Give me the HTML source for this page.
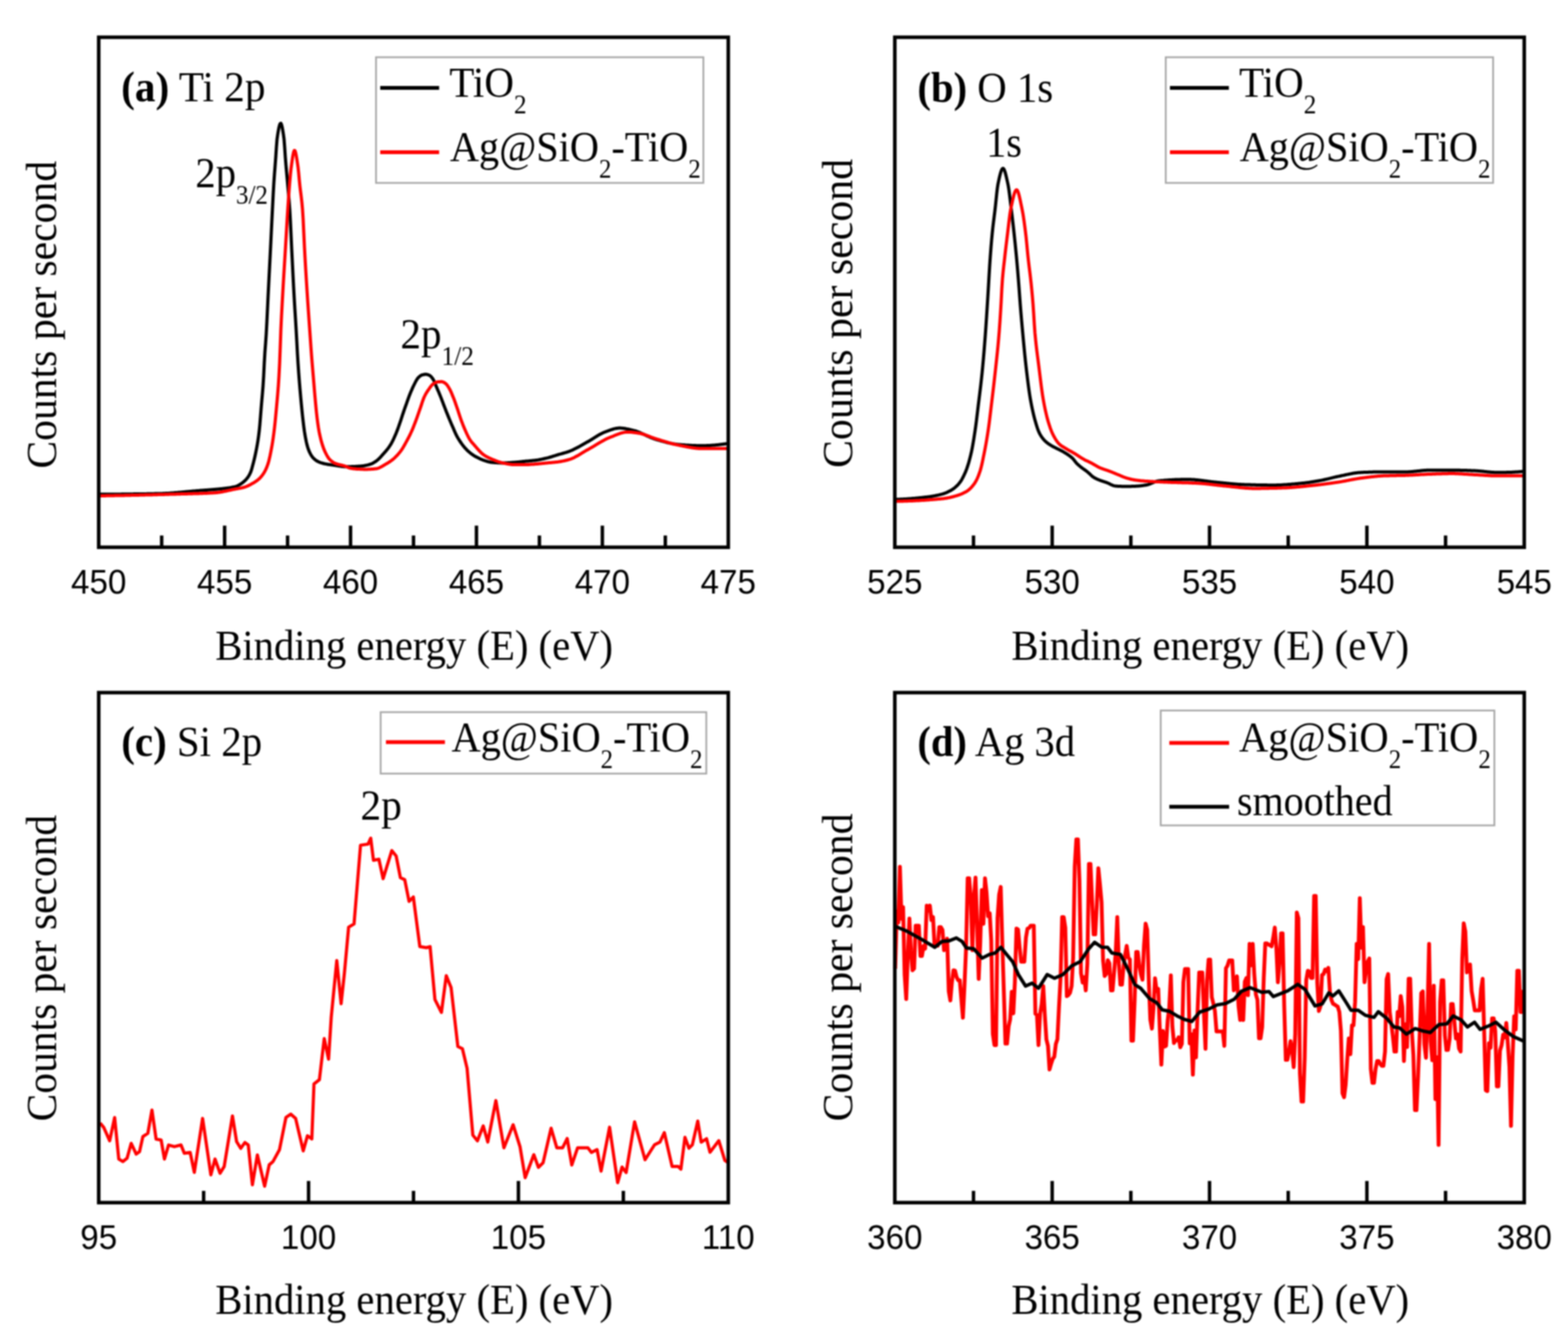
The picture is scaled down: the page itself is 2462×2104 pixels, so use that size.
<!DOCTYPE html>
<html><head><meta charset="utf-8"><title>XPS spectra</title>
<style>html,body{margin:0;padding:0;background:#fff;} svg{display:block;filter:blur(1.1px);}</style>
</head><body>
<svg width="2462" height="2104" viewBox="0 0 2462 2104">
<rect width="2462" height="2104" fill="#fff"/>
<path d="M155.0,776.0 L156.0,776.0 L157.0,776.0 L158.0,776.0 L159.0,776.0 L160.0,776.0 L161.0,776.0 L162.0,776.0 L163.0,776.0 L164.0,776.0 L165.0,776.0 L166.0,776.0 L167.0,776.0 L168.0,776.0 L169.0,776.0 L170.0,776.0 L171.0,776.0 L172.0,776.0 L173.0,776.0 L174.0,776.0 L175.0,776.0 L176.0,775.9 L177.0,775.9 L178.0,775.9 L179.0,775.9 L180.0,775.9 L181.0,775.9 L182.0,775.9 L183.0,775.9 L184.0,775.9 L185.0,775.9 L186.0,775.9 L187.0,775.9 L188.0,775.9 L189.0,775.9 L190.0,775.9 L191.0,775.8 L192.0,775.8 L193.0,775.8 L194.0,775.8 L195.0,775.8 L196.0,775.8 L197.0,775.8 L198.0,775.8 L199.0,775.8 L200.0,775.8 L201.0,775.7 L202.0,775.7 L203.0,775.7 L204.0,775.7 L205.0,775.7 L206.0,775.7 L207.0,775.7 L208.0,775.7 L209.0,775.7 L210.0,775.6 L211.0,775.6 L212.0,775.6 L213.0,775.6 L214.0,775.6 L215.0,775.6 L216.0,775.6 L217.0,775.6 L218.0,775.5 L219.0,775.5 L220.0,775.5 L221.0,775.5 L222.0,775.5 L223.0,775.5 L224.0,775.5 L225.0,775.4 L226.0,775.4 L227.0,775.4 L228.0,775.4 L229.0,775.4 L230.0,775.4 L231.0,775.3 L232.0,775.3 L233.0,775.3 L234.0,775.3 L235.0,775.3 L236.0,775.3 L237.0,775.2 L238.0,775.2 L239.0,775.2 L240.0,775.2 L241.0,775.2 L242.0,775.2 L243.0,775.1 L244.0,775.1 L245.0,775.1 L246.0,775.1 L247.0,775.1 L248.0,775.0 L249.0,775.0 L250.0,775.0 L251.0,775.0 L252.0,775.0 L253.0,774.9 L254.0,774.9 L255.0,774.9 L256.0,774.8 L257.0,774.8 L258.0,774.7 L259.0,774.7 L260.0,774.6 L261.0,774.6 L262.0,774.5 L263.0,774.5 L264.0,774.4 L265.0,774.4 L266.0,774.3 L267.0,774.2 L268.0,774.2 L269.0,774.1 L270.0,774.0 L271.0,774.0 L272.0,773.9 L273.0,773.8 L274.0,773.7 L275.0,773.6 L276.0,773.6 L277.0,773.5 L278.0,773.4 L279.0,773.3 L280.0,773.2 L281.0,773.1 L282.0,773.0 L283.0,773.0 L284.0,772.9 L285.0,772.8 L286.0,772.7 L287.0,772.6 L288.0,772.5 L289.0,772.4 L290.0,772.3 L291.0,772.2 L292.0,772.1 L293.0,772.0 L294.0,771.9 L295.0,771.8 L296.0,771.8 L297.0,771.7 L298.0,771.6 L299.0,771.5 L300.0,771.4 L301.0,771.3 L302.0,771.2 L303.0,771.1 L304.0,771.0 L305.0,770.9 L306.0,770.9 L307.0,770.8 L308.0,770.7 L309.0,770.6 L310.0,770.5 L311.0,770.4 L312.0,770.4 L313.0,770.3 L314.0,770.2 L315.0,770.1 L316.0,770.0 L317.0,770.0 L318.0,769.9 L319.0,769.8 L320.0,769.7 L321.0,769.7 L322.0,769.6 L323.0,769.5 L324.0,769.4 L325.0,769.4 L326.0,769.3 L327.0,769.2 L328.0,769.2 L329.0,769.1 L330.0,769.0 L331.0,768.9 L332.0,768.8 L333.0,768.8 L334.0,768.7 L335.0,768.6 L336.0,768.5 L337.0,768.4 L338.0,768.3 L339.0,768.3 L340.0,768.2 L341.0,768.1 L342.0,768.0 L343.0,767.9 L344.0,767.8 L345.0,767.7 L346.0,767.6 L347.0,767.5 L348.0,767.4 L349.0,767.3 L350.0,767.2 L351.0,767.0 L352.0,766.9 L353.0,766.8 L354.0,766.7 L355.0,766.6 L356.0,766.4 L357.0,766.3 L358.0,766.2 L359.0,766.1 L360.0,765.9 L361.0,765.8 L362.0,765.6 L363.0,765.4 L364.0,765.2 L365.0,765.0 L366.0,764.8 L367.0,764.6 L368.0,764.4 L369.0,764.2 L370.0,763.9 L371.0,763.6 L372.0,763.2 L373.0,762.8 L374.0,762.2 L375.0,761.7 L376.0,761.1 L377.0,760.5 L378.0,759.9 L379.0,759.2 L380.0,758.5 L381.0,757.8 L382.0,757.0 L383.0,756.1 L384.0,755.2 L385.0,754.2 L386.0,753.2 L387.0,752.1 L388.0,750.9 L389.0,749.6 L390.0,748.1 L391.0,746.5 L392.0,744.7 L393.0,742.7 L394.0,740.3 L395.0,737.3 L396.0,733.7 L397.0,729.9 L398.0,726.1 L399.0,722.1 L400.0,717.9 L401.0,713.4 L402.0,708.6 L403.0,703.4 L404.0,697.9 L405.0,691.8 L406.0,684.9 L407.0,676.9 L408.0,666.7 L409.0,654.3 L410.0,641.6 L411.0,629.8 L412.0,618.6 L413.0,606.2 L414.0,590.2 L415.0,569.3 L416.0,552.4 L417.0,539.2 L418.0,524.8 L419.0,506.2 L420.0,485.2 L421.0,463.9 L422.0,444.1 L423.0,424.5 L424.0,404.8 L425.0,384.8 L426.0,364.3 L427.0,343.9 L428.0,324.1 L429.0,304.3 L430.0,286.8 L431.0,272.7 L432.0,260.0 L433.0,246.5 L434.0,231.2 L435.0,218.5 L436.0,211.5 L437.0,205.4 L438.0,200.2 L439.0,196.3 L440.0,194.0 L441.0,193.6 L442.0,195.5 L443.0,199.4 L444.0,204.8 L445.0,211.2 L446.0,218.7 L447.0,231.6 L448.0,246.9 L449.0,259.3 L450.0,270.5 L451.0,281.5 L452.0,293.0 L453.0,304.3 L454.0,316.1 L455.0,330.0 L456.0,348.0 L457.0,369.3 L458.0,390.8 L459.0,411.0 L460.0,431.2 L461.0,450.7 L462.0,468.7 L463.0,485.3 L464.0,501.4 L465.0,517.9 L466.0,535.9 L467.0,554.9 L468.0,571.0 L469.0,585.5 L470.0,598.6 L471.0,610.8 L472.0,622.1 L473.0,632.9 L474.0,643.2 L475.0,652.9 L476.0,661.8 L477.0,670.1 L478.0,677.4 L479.0,683.5 L480.0,689.1 L481.0,694.0 L482.0,698.3 L483.0,701.8 L484.0,704.9 L485.0,707.6 L486.0,709.9 L487.0,711.9 L488.0,713.7 L489.0,715.4 L490.0,716.9 L491.0,718.1 L492.0,719.2 L493.0,720.2 L494.0,721.1 L495.0,722.0 L496.0,722.7 L497.0,723.4 L498.0,724.1 L499.0,724.6 L500.0,725.1 L501.0,725.5 L502.0,725.9 L503.0,726.3 L504.0,726.6 L505.0,726.9 L506.0,727.2 L507.0,727.5 L508.0,727.8 L509.0,728.0 L510.0,728.2 L511.0,728.4 L512.0,728.6 L513.0,728.8 L514.0,729.0 L515.0,729.2 L516.0,729.3 L517.0,729.5 L518.0,729.6 L519.0,729.7 L520.0,729.9 L521.0,730.0 L522.0,730.1 L523.0,730.3 L524.0,730.4 L525.0,730.5 L526.0,730.7 L527.0,730.8 L528.0,731.0 L529.0,731.2 L530.0,731.3 L531.0,731.5 L532.0,731.7 L533.0,731.8 L534.0,732.0 L535.0,732.1 L536.0,732.3 L537.0,732.4 L538.0,732.5 L539.0,732.6 L540.0,732.7 L541.0,732.7 L542.0,732.8 L543.0,732.8 L544.0,732.8 L545.0,732.8 L546.0,732.8 L547.0,732.8 L548.0,732.8 L549.0,732.7 L550.0,732.7 L551.0,732.7 L552.0,732.6 L553.0,732.6 L554.0,732.6 L555.0,732.5 L556.0,732.5 L557.0,732.4 L558.0,732.4 L559.0,732.3 L560.0,732.3 L561.0,732.2 L562.0,732.2 L563.0,732.1 L564.0,732.1 L565.0,732.0 L566.0,731.9 L567.0,731.8 L568.0,731.8 L569.0,731.6 L570.0,731.5 L571.0,731.4 L572.0,731.2 L573.0,731.0 L574.0,730.8 L575.0,730.6 L576.0,730.4 L577.0,730.1 L578.0,729.9 L579.0,729.6 L580.0,729.3 L581.0,729.0 L582.0,728.7 L583.0,728.4 L584.0,728.0 L585.0,727.5 L586.0,726.9 L587.0,726.3 L588.0,725.7 L589.0,725.1 L590.0,724.4 L591.0,723.7 L592.0,722.9 L593.0,722.1 L594.0,721.2 L595.0,720.2 L596.0,719.2 L597.0,718.2 L598.0,717.1 L599.0,716.0 L600.0,714.8 L601.0,713.7 L602.0,712.6 L603.0,711.5 L604.0,710.4 L605.0,709.3 L606.0,708.1 L607.0,706.9 L608.0,705.7 L609.0,704.4 L610.0,703.1 L611.0,701.7 L612.0,700.2 L613.0,698.7 L614.0,697.0 L615.0,695.2 L616.0,693.3 L617.0,691.3 L618.0,689.2 L619.0,687.0 L620.0,684.8 L621.0,682.5 L622.0,680.2 L623.0,677.6 L624.0,675.0 L625.0,672.3 L626.0,669.5 L627.0,666.6 L628.0,663.7 L629.0,660.9 L630.0,657.8 L631.0,654.8 L632.0,651.6 L633.0,648.6 L634.0,645.6 L635.0,642.7 L636.0,639.9 L637.0,637.1 L638.0,634.4 L639.0,631.5 L640.0,628.7 L641.0,625.9 L642.0,623.1 L643.0,620.5 L644.0,618.0 L645.0,615.5 L646.0,613.2 L647.0,610.9 L648.0,608.6 L649.0,606.5 L650.0,604.5 L651.0,602.5 L652.0,600.5 L653.0,598.6 L654.0,596.8 L655.0,595.2 L656.0,593.8 L657.0,592.8 L658.0,591.8 L659.0,590.9 L660.0,590.1 L661.0,589.5 L662.0,589.0 L663.0,588.7 L664.0,588.4 L665.0,588.2 L666.0,588.0 L667.0,587.8 L668.0,587.7 L669.0,587.7 L670.0,587.8 L671.0,588.1 L672.0,588.4 L673.0,588.8 L674.0,589.3 L675.0,589.8 L676.0,590.5 L677.0,591.5 L678.0,592.7 L679.0,594.0 L680.0,595.5 L681.0,597.2 L682.0,599.3 L683.0,601.7 L684.0,604.2 L685.0,606.8 L686.0,609.1 L687.0,611.5 L688.0,613.8 L689.0,616.1 L690.0,618.5 L691.0,620.9 L692.0,623.4 L693.0,625.9 L694.0,628.6 L695.0,631.2 L696.0,633.9 L697.0,636.5 L698.0,639.1 L699.0,641.7 L700.0,644.2 L701.0,646.8 L702.0,649.3 L703.0,651.8 L704.0,654.3 L705.0,656.7 L706.0,659.1 L707.0,661.5 L708.0,663.9 L709.0,666.2 L710.0,668.5 L711.0,670.8 L712.0,673.1 L713.0,675.5 L714.0,677.8 L715.0,680.0 L716.0,682.1 L717.0,684.1 L718.0,686.0 L719.0,687.7 L720.0,689.4 L721.0,691.0 L722.0,692.5 L723.0,694.0 L724.0,695.5 L725.0,696.9 L726.0,698.3 L727.0,699.6 L728.0,700.9 L729.0,702.0 L730.0,703.2 L731.0,704.3 L732.0,705.3 L733.0,706.4 L734.0,707.4 L735.0,708.3 L736.0,709.2 L737.0,710.1 L738.0,710.9 L739.0,711.7 L740.0,712.5 L741.0,713.2 L742.0,713.9 L743.0,714.6 L744.0,715.2 L745.0,715.9 L746.0,716.4 L747.0,717.0 L748.0,717.6 L749.0,718.1 L750.0,718.6 L751.0,719.1 L752.0,719.6 L753.0,720.1 L754.0,720.6 L755.0,721.0 L756.0,721.4 L757.0,721.8 L758.0,722.2 L759.0,722.6 L760.0,722.9 L761.0,723.2 L762.0,723.6 L763.0,723.9 L764.0,724.2 L765.0,724.5 L766.0,724.8 L767.0,725.1 L768.0,725.3 L769.0,725.5 L770.0,725.7 L771.0,725.9 L772.0,726.0 L773.0,726.1 L774.0,726.2 L775.0,726.2 L776.0,726.3 L777.0,726.4 L778.0,726.5 L779.0,726.5 L780.0,726.6 L781.0,726.7 L782.0,726.7 L783.0,726.8 L784.0,726.8 L785.0,726.8 L786.0,726.9 L787.0,726.9 L788.0,726.9 L789.0,726.9 L790.0,726.9 L791.0,726.9 L792.0,726.9 L793.0,726.8 L794.0,726.8 L795.0,726.8 L796.0,726.7 L797.0,726.7 L798.0,726.6 L799.0,726.5 L800.0,726.5 L801.0,726.4 L802.0,726.3 L803.0,726.3 L804.0,726.2 L805.0,726.1 L806.0,726.1 L807.0,726.0 L808.0,725.9 L809.0,725.8 L810.0,725.8 L811.0,725.7 L812.0,725.6 L813.0,725.5 L814.0,725.4 L815.0,725.3 L816.0,725.2 L817.0,725.1 L818.0,725.0 L819.0,724.9 L820.0,724.7 L821.0,724.6 L822.0,724.5 L823.0,724.4 L824.0,724.3 L825.0,724.2 L826.0,724.1 L827.0,724.0 L828.0,724.0 L829.0,723.9 L830.0,723.8 L831.0,723.7 L832.0,723.6 L833.0,723.5 L834.0,723.4 L835.0,723.3 L836.0,723.2 L837.0,723.1 L838.0,723.0 L839.0,722.9 L840.0,722.8 L841.0,722.7 L842.0,722.5 L843.0,722.4 L844.0,722.3 L845.0,722.1 L846.0,721.9 L847.0,721.7 L848.0,721.5 L849.0,721.4 L850.0,721.1 L851.0,720.9 L852.0,720.7 L853.0,720.5 L854.0,720.3 L855.0,720.0 L856.0,719.8 L857.0,719.6 L858.0,719.3 L859.0,719.1 L860.0,718.9 L861.0,718.6 L862.0,718.3 L863.0,718.0 L864.0,717.8 L865.0,717.5 L866.0,717.2 L867.0,716.8 L868.0,716.5 L869.0,716.2 L870.0,715.9 L871.0,715.6 L872.0,715.3 L873.0,714.9 L874.0,714.6 L875.0,714.3 L876.0,714.0 L877.0,713.7 L878.0,713.4 L879.0,713.1 L880.0,712.9 L881.0,712.6 L882.0,712.3 L883.0,712.0 L884.0,711.8 L885.0,711.5 L886.0,711.2 L887.0,710.9 L888.0,710.6 L889.0,710.3 L890.0,710.0 L891.0,709.7 L892.0,709.3 L893.0,709.0 L894.0,708.6 L895.0,708.2 L896.0,707.8 L897.0,707.4 L898.0,707.0 L899.0,706.5 L900.0,706.1 L901.0,705.6 L902.0,705.1 L903.0,704.6 L904.0,704.1 L905.0,703.6 L906.0,703.1 L907.0,702.5 L908.0,702.0 L909.0,701.4 L910.0,700.9 L911.0,700.3 L912.0,699.7 L913.0,699.2 L914.0,698.6 L915.0,698.0 L916.0,697.5 L917.0,696.9 L918.0,696.3 L919.0,695.8 L920.0,695.2 L921.0,694.6 L922.0,694.1 L923.0,693.5 L924.0,693.0 L925.0,692.4 L926.0,691.8 L927.0,691.2 L928.0,690.6 L929.0,690.0 L930.0,689.4 L931.0,688.7 L932.0,688.1 L933.0,687.5 L934.0,686.8 L935.0,686.2 L936.0,685.6 L937.0,684.9 L938.0,684.3 L939.0,683.7 L940.0,683.1 L941.0,682.5 L942.0,682.0 L943.0,681.4 L944.0,680.9 L945.0,680.4 L946.0,679.9 L947.0,679.5 L948.0,679.0 L949.0,678.6 L950.0,678.3 L951.0,677.9 L952.0,677.5 L953.0,677.1 L954.0,676.8 L955.0,676.4 L956.0,676.0 L957.0,675.6 L958.0,675.3 L959.0,674.9 L960.0,674.6 L961.0,674.3 L962.0,674.0 L963.0,673.7 L964.0,673.4 L965.0,673.1 L966.0,672.9 L967.0,672.7 L968.0,672.5 L969.0,672.4 L970.0,672.3 L971.0,672.2 L972.0,672.1 L973.0,672.1 L974.0,672.1 L975.0,672.2 L976.0,672.2 L977.0,672.3 L978.0,672.4 L979.0,672.5 L980.0,672.7 L981.0,672.8 L982.0,673.0 L983.0,673.2 L984.0,673.4 L985.0,673.6 L986.0,673.8 L987.0,674.0 L988.0,674.2 L989.0,674.5 L990.0,674.7 L991.0,674.9 L992.0,675.2 L993.0,675.4 L994.0,675.6 L995.0,675.9 L996.0,676.1 L997.0,676.4 L998.0,676.7 L999.0,677.0 L1000.0,677.4 L1001.0,677.7 L1002.0,678.1 L1003.0,678.5 L1004.0,678.9 L1005.0,679.3 L1006.0,679.8 L1007.0,680.2 L1008.0,680.7 L1009.0,681.1 L1010.0,681.6 L1011.0,682.0 L1012.0,682.5 L1013.0,683.0 L1014.0,683.5 L1015.0,683.9 L1016.0,684.4 L1017.0,684.9 L1018.0,685.3 L1019.0,685.8 L1020.0,686.2 L1021.0,686.7 L1022.0,687.1 L1023.0,687.5 L1024.0,687.9 L1025.0,688.3 L1026.0,688.7 L1027.0,689.0 L1028.0,689.4 L1029.0,689.7 L1030.0,690.0 L1031.0,690.3 L1032.0,690.6 L1033.0,690.9 L1034.0,691.2 L1035.0,691.4 L1036.0,691.7 L1037.0,692.0 L1038.0,692.3 L1039.0,692.6 L1040.0,692.9 L1041.0,693.1 L1042.0,693.4 L1043.0,693.7 L1044.0,693.9 L1045.0,694.2 L1046.0,694.5 L1047.0,694.7 L1048.0,695.0 L1049.0,695.2 L1050.0,695.4 L1051.0,695.7 L1052.0,695.9 L1053.0,696.1 L1054.0,696.3 L1055.0,696.5 L1056.0,696.7 L1057.0,696.9 L1058.0,697.0 L1059.0,697.2 L1060.0,697.3 L1061.0,697.5 L1062.0,697.6 L1063.0,697.7 L1064.0,697.8 L1065.0,697.9 L1066.0,698.0 L1067.0,698.1 L1068.0,698.2 L1069.0,698.3 L1070.0,698.3 L1071.0,698.4 L1072.0,698.5 L1073.0,698.6 L1074.0,698.6 L1075.0,698.7 L1076.0,698.8 L1077.0,698.9 L1078.0,698.9 L1079.0,699.0 L1080.0,699.1 L1081.0,699.1 L1082.0,699.2 L1083.0,699.2 L1084.0,699.3 L1085.0,699.3 L1086.0,699.4 L1087.0,699.4 L1088.0,699.5 L1089.0,699.5 L1090.0,699.6 L1091.0,699.6 L1092.0,699.6 L1093.0,699.7 L1094.0,699.7 L1095.0,699.7 L1096.0,699.7 L1097.0,699.8 L1098.0,699.8 L1099.0,699.8 L1100.0,699.8 L1101.0,699.8 L1102.0,699.8 L1103.0,699.8 L1104.0,699.8 L1105.0,699.8 L1106.0,699.8 L1107.0,699.7 L1108.0,699.7 L1109.0,699.7 L1110.0,699.6 L1111.0,699.6 L1112.0,699.5 L1113.0,699.5 L1114.0,699.4 L1115.0,699.4 L1116.0,699.3 L1117.0,699.3 L1118.0,699.2 L1119.0,699.1 L1120.0,699.0 L1121.0,699.0 L1122.0,698.9 L1123.0,698.8 L1124.0,698.7 L1125.0,698.6 L1126.0,698.5 L1127.0,698.4 L1128.0,698.3 L1129.0,698.2 L1130.0,698.1 L1131.0,698.0 L1132.0,697.8 L1133.0,697.7 L1134.0,697.6 L1135.0,697.5 L1136.0,697.3 L1137.0,697.2 L1138.0,697.0 L1139.0,696.9 L1140.0,696.8 L1141.0,696.6 L1142.0,696.5 L1143.0,696.3" fill="none" stroke="#000" stroke-width="5.0" stroke-linejoin="round" stroke-linecap="butt"/>
<path d="M155.0,778.5 L156.0,778.5 L157.0,778.5 L158.0,778.5 L159.0,778.4 L160.0,778.4 L161.0,778.4 L162.0,778.4 L163.0,778.4 L164.0,778.4 L165.0,778.4 L166.0,778.4 L167.0,778.3 L168.0,778.3 L169.0,778.3 L170.0,778.3 L171.0,778.3 L172.0,778.3 L173.0,778.2 L174.0,778.2 L175.0,778.2 L176.0,778.2 L177.0,778.2 L178.0,778.2 L179.0,778.2 L180.0,778.1 L181.0,778.1 L182.0,778.1 L183.0,778.1 L184.0,778.1 L185.0,778.0 L186.0,778.0 L187.0,778.0 L188.0,778.0 L189.0,778.0 L190.0,778.0 L191.0,777.9 L192.0,777.9 L193.0,777.9 L194.0,777.9 L195.0,777.9 L196.0,777.8 L197.0,777.8 L198.0,777.8 L199.0,777.8 L200.0,777.8 L201.0,777.7 L202.0,777.7 L203.0,777.7 L204.0,777.7 L205.0,777.7 L206.0,777.6 L207.0,777.6 L208.0,777.6 L209.0,777.6 L210.0,777.5 L211.0,777.5 L212.0,777.5 L213.0,777.5 L214.0,777.5 L215.0,777.4 L216.0,777.4 L217.0,777.4 L218.0,777.4 L219.0,777.3 L220.0,777.3 L221.0,777.3 L222.0,777.3 L223.0,777.3 L224.0,777.2 L225.0,777.2 L226.0,777.2 L227.0,777.2 L228.0,777.1 L229.0,777.1 L230.0,777.1 L231.0,777.1 L232.0,777.0 L233.0,777.0 L234.0,777.0 L235.0,777.0 L236.0,776.9 L237.0,776.9 L238.0,776.9 L239.0,776.9 L240.0,776.8 L241.0,776.8 L242.0,776.8 L243.0,776.8 L244.0,776.7 L245.0,776.7 L246.0,776.7 L247.0,776.7 L248.0,776.6 L249.0,776.6 L250.0,776.6 L251.0,776.5 L252.0,776.5 L253.0,776.5 L254.0,776.5 L255.0,776.4 L256.0,776.4 L257.0,776.4 L258.0,776.4 L259.0,776.3 L260.0,776.3 L261.0,776.3 L262.0,776.3 L263.0,776.2 L264.0,776.2 L265.0,776.2 L266.0,776.1 L267.0,776.1 L268.0,776.1 L269.0,776.1 L270.0,776.0 L271.0,776.0 L272.0,776.0 L273.0,775.9 L274.0,775.9 L275.0,775.9 L276.0,775.9 L277.0,775.8 L278.0,775.8 L279.0,775.8 L280.0,775.8 L281.0,775.7 L282.0,775.7 L283.0,775.7 L284.0,775.6 L285.0,775.6 L286.0,775.6 L287.0,775.6 L288.0,775.5 L289.0,775.5 L290.0,775.5 L291.0,775.4 L292.0,775.4 L293.0,775.4 L294.0,775.4 L295.0,775.3 L296.0,775.3 L297.0,775.3 L298.0,775.3 L299.0,775.2 L300.0,775.2 L301.0,775.2 L302.0,775.2 L303.0,775.1 L304.0,775.1 L305.0,775.1 L306.0,775.0 L307.0,775.0 L308.0,775.0 L309.0,775.0 L310.0,774.9 L311.0,774.9 L312.0,774.9 L313.0,774.8 L314.0,774.8 L315.0,774.8 L316.0,774.7 L317.0,774.7 L318.0,774.7 L319.0,774.6 L320.0,774.6 L321.0,774.5 L322.0,774.5 L323.0,774.5 L324.0,774.4 L325.0,774.4 L326.0,774.3 L327.0,774.3 L328.0,774.2 L329.0,774.2 L330.0,774.1 L331.0,774.1 L332.0,774.0 L333.0,774.0 L334.0,773.9 L335.0,773.8 L336.0,773.8 L337.0,773.7 L338.0,773.7 L339.0,773.6 L340.0,773.5 L341.0,773.4 L342.0,773.3 L343.0,773.1 L344.0,773.0 L345.0,772.9 L346.0,772.7 L347.0,772.5 L348.0,772.4 L349.0,772.2 L350.0,772.0 L351.0,771.8 L352.0,771.6 L353.0,771.4 L354.0,771.2 L355.0,771.0 L356.0,770.8 L357.0,770.6 L358.0,770.3 L359.0,770.1 L360.0,769.9 L361.0,769.7 L362.0,769.5 L363.0,769.2 L364.0,769.0 L365.0,768.8 L366.0,768.6 L367.0,768.4 L368.0,768.2 L369.0,768.0 L370.0,767.8 L371.0,767.6 L372.0,767.4 L373.0,767.3 L374.0,767.1 L375.0,766.9 L376.0,766.7 L377.0,766.5 L378.0,766.4 L379.0,766.2 L380.0,765.9 L381.0,765.7 L382.0,765.5 L383.0,765.2 L384.0,764.9 L385.0,764.6 L386.0,764.2 L387.0,763.8 L388.0,763.4 L389.0,762.9 L390.0,762.4 L391.0,761.9 L392.0,761.4 L393.0,760.9 L394.0,760.4 L395.0,759.8 L396.0,759.3 L397.0,758.7 L398.0,758.2 L399.0,757.6 L400.0,757.0 L401.0,756.3 L402.0,755.6 L403.0,754.9 L404.0,754.2 L405.0,753.4 L406.0,752.5 L407.0,751.7 L408.0,750.7 L409.0,749.6 L410.0,748.5 L411.0,747.3 L412.0,746.0 L413.0,744.6 L414.0,743.1 L415.0,741.5 L416.0,739.7 L417.0,737.8 L418.0,735.6 L419.0,733.2 L420.0,730.5 L421.0,727.6 L422.0,724.1 L423.0,720.0 L424.0,715.6 L425.0,710.7 L426.0,705.6 L427.0,700.1 L428.0,694.1 L429.0,687.4 L430.0,680.0 L431.0,671.8 L432.0,662.4 L433.0,652.1 L434.0,641.2 L435.0,630.3 L436.0,619.0 L437.0,606.3 L438.0,590.9 L439.0,571.4 L440.0,545.7 L441.0,517.7 L442.0,496.5 L443.0,477.8 L444.0,459.9 L445.0,442.4 L446.0,425.9 L447.0,409.7 L448.0,393.2 L449.0,376.3 L450.0,359.3 L451.0,342.7 L452.0,326.9 L453.0,311.6 L454.0,297.3 L455.0,284.9 L456.0,273.7 L457.0,264.3 L458.0,257.1 L459.0,250.0 L460.0,243.7 L461.0,238.9 L462.0,236.3 L463.0,236.5 L464.0,239.1 L465.0,243.6 L466.0,249.4 L467.0,255.9 L468.0,262.7 L469.0,272.2 L470.0,283.3 L471.0,293.0 L472.0,301.1 L473.0,309.0 L474.0,317.9 L475.0,328.8 L476.0,344.6 L477.0,365.7 L478.0,387.2 L479.0,405.6 L480.0,422.8 L481.0,439.3 L482.0,455.2 L483.0,470.5 L484.0,485.2 L485.0,499.4 L486.0,513.5 L487.0,527.7 L488.0,542.1 L489.0,556.0 L490.0,568.7 L491.0,580.5 L492.0,592.2 L493.0,604.3 L494.0,616.4 L495.0,627.6 L496.0,638.4 L497.0,648.5 L498.0,657.3 L499.0,664.9 L500.0,671.7 L501.0,677.5 L502.0,682.4 L503.0,686.8 L504.0,690.9 L505.0,694.5 L506.0,697.9 L507.0,700.9 L508.0,703.7 L509.0,706.2 L510.0,708.6 L511.0,710.7 L512.0,712.7 L513.0,714.6 L514.0,716.4 L515.0,718.0 L516.0,719.5 L517.0,720.7 L518.0,721.7 L519.0,722.7 L520.0,723.6 L521.0,724.4 L522.0,725.1 L523.0,725.8 L524.0,726.4 L525.0,726.9 L526.0,727.4 L527.0,727.8 L528.0,728.2 L529.0,728.5 L530.0,728.8 L531.0,729.1 L532.0,729.3 L533.0,729.6 L534.0,729.8 L535.0,730.1 L536.0,730.3 L537.0,730.5 L538.0,730.8 L539.0,731.1 L540.0,731.3 L541.0,731.7 L542.0,732.0 L543.0,732.4 L544.0,732.8 L545.0,733.3 L546.0,733.7 L547.0,734.1 L548.0,734.5 L549.0,734.8 L550.0,735.1 L551.0,735.3 L552.0,735.5 L553.0,735.6 L554.0,735.8 L555.0,735.9 L556.0,736.0 L557.0,736.1 L558.0,736.2 L559.0,736.3 L560.0,736.4 L561.0,736.4 L562.0,736.5 L563.0,736.5 L564.0,736.6 L565.0,736.6 L566.0,736.7 L567.0,736.7 L568.0,736.8 L569.0,736.8 L570.0,736.8 L571.0,736.9 L572.0,736.9 L573.0,736.9 L574.0,736.9 L575.0,736.9 L576.0,736.9 L577.0,736.9 L578.0,736.8 L579.0,736.8 L580.0,736.8 L581.0,736.7 L582.0,736.7 L583.0,736.6 L584.0,736.5 L585.0,736.4 L586.0,736.4 L587.0,736.3 L588.0,736.2 L589.0,736.1 L590.0,736.0 L591.0,735.9 L592.0,735.7 L593.0,735.4 L594.0,735.1 L595.0,734.7 L596.0,734.2 L597.0,733.8 L598.0,733.3 L599.0,732.7 L600.0,732.2 L601.0,731.6 L602.0,731.0 L603.0,730.4 L604.0,729.8 L605.0,729.2 L606.0,728.6 L607.0,728.0 L608.0,727.5 L609.0,726.9 L610.0,726.2 L611.0,725.6 L612.0,724.9 L613.0,724.2 L614.0,723.5 L615.0,722.8 L616.0,722.0 L617.0,721.2 L618.0,720.4 L619.0,719.5 L620.0,718.6 L621.0,717.6 L622.0,716.6 L623.0,715.6 L624.0,714.5 L625.0,713.4 L626.0,712.2 L627.0,711.0 L628.0,709.8 L629.0,708.5 L630.0,707.1 L631.0,705.7 L632.0,704.1 L633.0,702.5 L634.0,700.8 L635.0,699.0 L636.0,697.2 L637.0,695.4 L638.0,693.6 L639.0,691.8 L640.0,689.9 L641.0,688.0 L642.0,686.1 L643.0,684.1 L644.0,682.1 L645.0,680.0 L646.0,677.8 L647.0,675.6 L648.0,673.2 L649.0,670.8 L650.0,668.2 L651.0,665.6 L652.0,663.0 L653.0,660.3 L654.0,657.6 L655.0,654.9 L656.0,652.0 L657.0,649.2 L658.0,646.3 L659.0,643.4 L660.0,640.6 L661.0,637.6 L662.0,634.6 L663.0,631.5 L664.0,628.6 L665.0,626.0 L666.0,623.5 L667.0,621.5 L668.0,619.5 L669.0,617.8 L670.0,616.1 L671.0,614.5 L672.0,613.0 L673.0,611.6 L674.0,610.2 L675.0,608.7 L676.0,607.3 L677.0,606.0 L678.0,604.8 L679.0,603.8 L680.0,602.9 L681.0,602.3 L682.0,601.7 L683.0,601.1 L684.0,600.6 L685.0,600.2 L686.0,599.9 L687.0,599.7 L688.0,599.6 L689.0,599.5 L690.0,599.4 L691.0,599.4 L692.0,599.3 L693.0,599.3 L694.0,599.3 L695.0,599.6 L696.0,600.0 L697.0,600.4 L698.0,601.0 L699.0,601.7 L700.0,602.4 L701.0,603.4 L702.0,604.6 L703.0,606.0 L704.0,607.6 L705.0,609.3 L706.0,611.0 L707.0,612.9 L708.0,615.0 L709.0,617.3 L710.0,619.7 L711.0,622.2 L712.0,624.6 L713.0,627.2 L714.0,629.9 L715.0,632.7 L716.0,635.6 L717.0,638.5 L718.0,641.4 L719.0,644.3 L720.0,647.4 L721.0,650.5 L722.0,653.5 L723.0,656.5 L724.0,659.4 L725.0,662.1 L726.0,664.7 L727.0,667.3 L728.0,669.8 L729.0,672.2 L730.0,674.5 L731.0,676.7 L732.0,679.0 L733.0,681.2 L734.0,683.3 L735.0,685.3 L736.0,687.2 L737.0,689.0 L738.0,690.6 L739.0,692.1 L740.0,693.4 L741.0,694.7 L742.0,695.8 L743.0,696.9 L744.0,698.0 L745.0,699.2 L746.0,700.3 L747.0,701.5 L748.0,702.7 L749.0,703.9 L750.0,705.1 L751.0,706.1 L752.0,707.2 L753.0,708.3 L754.0,709.3 L755.0,710.4 L756.0,711.3 L757.0,712.2 L758.0,713.1 L759.0,713.8 L760.0,714.5 L761.0,715.2 L762.0,715.8 L763.0,716.4 L764.0,716.9 L765.0,717.5 L766.0,718.0 L767.0,718.5 L768.0,719.0 L769.0,719.4 L770.0,719.9 L771.0,720.3 L772.0,720.8 L773.0,721.2 L774.0,721.6 L775.0,722.0 L776.0,722.4 L777.0,722.8 L778.0,723.3 L779.0,723.6 L780.0,724.0 L781.0,724.4 L782.0,724.8 L783.0,725.1 L784.0,725.4 L785.0,725.7 L786.0,726.0 L787.0,726.3 L788.0,726.6 L789.0,726.8 L790.0,727.0 L791.0,727.2 L792.0,727.4 L793.0,727.6 L794.0,727.9 L795.0,728.1 L796.0,728.3 L797.0,728.4 L798.0,728.6 L799.0,728.8 L800.0,728.9 L801.0,729.1 L802.0,729.2 L803.0,729.3 L804.0,729.4 L805.0,729.5 L806.0,729.5 L807.0,729.5 L808.0,729.5 L809.0,729.5 L810.0,729.5 L811.0,729.5 L812.0,729.5 L813.0,729.5 L814.0,729.5 L815.0,729.5 L816.0,729.5 L817.0,729.5 L818.0,729.5 L819.0,729.5 L820.0,729.5 L821.0,729.5 L822.0,729.5 L823.0,729.5 L824.0,729.5 L825.0,729.5 L826.0,729.5 L827.0,729.5 L828.0,729.4 L829.0,729.4 L830.0,729.4 L831.0,729.3 L832.0,729.3 L833.0,729.2 L834.0,729.1 L835.0,729.1 L836.0,729.0 L837.0,728.9 L838.0,728.9 L839.0,728.8 L840.0,728.7 L841.0,728.6 L842.0,728.6 L843.0,728.5 L844.0,728.4 L845.0,728.3 L846.0,728.2 L847.0,728.1 L848.0,728.1 L849.0,727.9 L850.0,727.8 L851.0,727.7 L852.0,727.6 L853.0,727.5 L854.0,727.4 L855.0,727.3 L856.0,727.2 L857.0,727.1 L858.0,727.0 L859.0,726.9 L860.0,726.8 L861.0,726.7 L862.0,726.6 L863.0,726.5 L864.0,726.4 L865.0,726.4 L866.0,726.3 L867.0,726.2 L868.0,726.1 L869.0,726.0 L870.0,725.9 L871.0,725.8 L872.0,725.7 L873.0,725.6 L874.0,725.5 L875.0,725.4 L876.0,725.3 L877.0,725.1 L878.0,725.0 L879.0,724.8 L880.0,724.7 L881.0,724.5 L882.0,724.3 L883.0,724.1 L884.0,723.9 L885.0,723.7 L886.0,723.5 L887.0,723.3 L888.0,723.0 L889.0,722.8 L890.0,722.5 L891.0,722.3 L892.0,722.0 L893.0,721.7 L894.0,721.4 L895.0,721.1 L896.0,720.8 L897.0,720.4 L898.0,720.0 L899.0,719.6 L900.0,719.1 L901.0,718.7 L902.0,718.2 L903.0,717.6 L904.0,717.1 L905.0,716.6 L906.0,716.0 L907.0,715.4 L908.0,714.9 L909.0,714.3 L910.0,713.7 L911.0,713.1 L912.0,712.5 L913.0,711.8 L914.0,711.2 L915.0,710.6 L916.0,710.0 L917.0,709.4 L918.0,708.8 L919.0,708.2 L920.0,707.6 L921.0,707.1 L922.0,706.5 L923.0,705.9 L924.0,705.4 L925.0,704.8 L926.0,704.3 L927.0,703.7 L928.0,703.1 L929.0,702.5 L930.0,702.0 L931.0,701.4 L932.0,700.8 L933.0,700.2 L934.0,699.6 L935.0,698.9 L936.0,698.3 L937.0,697.7 L938.0,697.1 L939.0,696.5 L940.0,695.9 L941.0,695.3 L942.0,694.8 L943.0,694.2 L944.0,693.6 L945.0,693.0 L946.0,692.5 L947.0,691.9 L948.0,691.4 L949.0,690.8 L950.0,690.3 L951.0,689.8 L952.0,689.3 L953.0,688.8 L954.0,688.3 L955.0,687.9 L956.0,687.5 L957.0,687.0 L958.0,686.6 L959.0,686.2 L960.0,685.9 L961.0,685.5 L962.0,685.1 L963.0,684.7 L964.0,684.2 L965.0,683.8 L966.0,683.4 L967.0,683.0 L968.0,682.6 L969.0,682.2 L970.0,681.9 L971.0,681.5 L972.0,681.1 L973.0,680.8 L974.0,680.4 L975.0,680.1 L976.0,679.8 L977.0,679.6 L978.0,679.3 L979.0,679.1 L980.0,678.9 L981.0,678.7 L982.0,678.6 L983.0,678.5 L984.0,678.4 L985.0,678.4 L986.0,678.4 L987.0,678.4 L988.0,678.5 L989.0,678.5 L990.0,678.6 L991.0,678.6 L992.0,678.7 L993.0,678.8 L994.0,678.9 L995.0,679.0 L996.0,679.2 L997.0,679.3 L998.0,679.4 L999.0,679.6 L1000.0,679.7 L1001.0,679.9 L1002.0,680.0 L1003.0,680.2 L1004.0,680.3 L1005.0,680.5 L1006.0,680.7 L1007.0,681.0 L1008.0,681.2 L1009.0,681.5 L1010.0,681.8 L1011.0,682.1 L1012.0,682.4 L1013.0,682.8 L1014.0,683.1 L1015.0,683.5 L1016.0,683.9 L1017.0,684.2 L1018.0,684.6 L1019.0,685.0 L1020.0,685.4 L1021.0,685.8 L1022.0,686.2 L1023.0,686.6 L1024.0,686.9 L1025.0,687.3 L1026.0,687.7 L1027.0,688.0 L1028.0,688.4 L1029.0,688.7 L1030.0,689.0 L1031.0,689.3 L1032.0,689.6 L1033.0,689.9 L1034.0,690.2 L1035.0,690.5 L1036.0,690.8 L1037.0,691.2 L1038.0,691.5 L1039.0,691.8 L1040.0,692.1 L1041.0,692.4 L1042.0,692.7 L1043.0,693.0 L1044.0,693.3 L1045.0,693.6 L1046.0,693.9 L1047.0,694.2 L1048.0,694.5 L1049.0,694.8 L1050.0,695.1 L1051.0,695.4 L1052.0,695.7 L1053.0,696.0 L1054.0,696.2 L1055.0,696.5 L1056.0,696.8 L1057.0,697.0 L1058.0,697.3 L1059.0,697.5 L1060.0,697.8 L1061.0,698.0 L1062.0,698.2 L1063.0,698.4 L1064.0,698.7 L1065.0,698.9 L1066.0,699.1 L1067.0,699.3 L1068.0,699.5 L1069.0,699.7 L1070.0,699.9 L1071.0,700.1 L1072.0,700.3 L1073.0,700.5 L1074.0,700.7 L1075.0,700.9 L1076.0,701.1 L1077.0,701.3 L1078.0,701.5 L1079.0,701.7 L1080.0,701.9 L1081.0,702.1 L1082.0,702.2 L1083.0,702.4 L1084.0,702.6 L1085.0,702.8 L1086.0,702.9 L1087.0,703.1 L1088.0,703.2 L1089.0,703.4 L1090.0,703.5 L1091.0,703.6 L1092.0,703.7 L1093.0,703.9 L1094.0,703.9 L1095.0,704.0 L1096.0,704.1 L1097.0,704.2 L1098.0,704.2 L1099.0,704.3 L1100.0,704.3 L1101.0,704.3 L1102.0,704.3 L1103.0,704.3 L1104.0,704.3 L1105.0,704.3 L1106.0,704.3 L1107.0,704.3 L1108.0,704.3 L1109.0,704.3 L1110.0,704.3 L1111.0,704.3 L1112.0,704.3 L1113.0,704.3 L1114.0,704.3 L1115.0,704.3 L1116.0,704.3 L1117.0,704.3 L1118.0,704.3 L1119.0,704.3 L1120.0,704.3 L1121.0,704.3 L1122.0,704.3 L1123.0,704.3 L1124.0,704.3 L1125.0,704.3 L1126.0,704.3 L1127.0,704.3 L1128.0,704.3 L1129.0,704.3 L1130.0,704.3 L1131.0,704.3 L1132.0,704.3 L1133.0,704.3 L1134.0,704.3 L1135.0,704.3 L1136.0,704.3 L1137.0,704.3 L1138.0,704.3 L1139.0,704.3 L1140.0,704.3 L1141.0,704.3 L1142.0,704.3 L1143.0,704.3" fill="none" stroke="#ff0000" stroke-width="5.0" stroke-linejoin="round" stroke-linecap="butt"/>
<path d="M1405.0,784.0 L1406.0,784.0 L1407.0,784.0 L1408.0,784.0 L1409.0,784.0 L1410.0,783.9 L1411.0,783.9 L1412.0,783.9 L1413.0,783.9 L1414.0,783.8 L1415.0,783.8 L1416.0,783.8 L1417.0,783.7 L1418.0,783.7 L1419.0,783.6 L1420.0,783.6 L1421.0,783.5 L1422.0,783.5 L1423.0,783.4 L1424.0,783.3 L1425.0,783.3 L1426.0,783.2 L1427.0,783.1 L1428.0,783.0 L1429.0,783.0 L1430.0,782.9 L1431.0,782.8 L1432.0,782.7 L1433.0,782.6 L1434.0,782.6 L1435.0,782.5 L1436.0,782.4 L1437.0,782.3 L1438.0,782.2 L1439.0,782.1 L1440.0,782.0 L1441.0,781.9 L1442.0,781.8 L1443.0,781.7 L1444.0,781.6 L1445.0,781.5 L1446.0,781.4 L1447.0,781.3 L1448.0,781.2 L1449.0,781.1 L1450.0,780.9 L1451.0,780.8 L1452.0,780.7 L1453.0,780.6 L1454.0,780.5 L1455.0,780.4 L1456.0,780.3 L1457.0,780.2 L1458.0,780.0 L1459.0,779.9 L1460.0,779.8 L1461.0,779.6 L1462.0,779.5 L1463.0,779.3 L1464.0,779.2 L1465.0,779.0 L1466.0,778.8 L1467.0,778.6 L1468.0,778.4 L1469.0,778.2 L1470.0,778.0 L1471.0,777.8 L1472.0,777.6 L1473.0,777.4 L1474.0,777.1 L1475.0,776.9 L1476.0,776.7 L1477.0,776.4 L1478.0,776.1 L1479.0,775.9 L1480.0,775.6 L1481.0,775.3 L1482.0,775.0 L1483.0,774.7 L1484.0,774.3 L1485.0,773.9 L1486.0,773.5 L1487.0,773.1 L1488.0,772.6 L1489.0,772.1 L1490.0,771.6 L1491.0,771.1 L1492.0,770.6 L1493.0,770.0 L1494.0,769.4 L1495.0,768.8 L1496.0,768.1 L1497.0,767.4 L1498.0,766.7 L1499.0,765.9 L1500.0,765.0 L1501.0,764.1 L1502.0,763.2 L1503.0,762.2 L1504.0,761.2 L1505.0,760.1 L1506.0,758.9 L1507.0,757.7 L1508.0,756.3 L1509.0,754.8 L1510.0,753.2 L1511.0,751.4 L1512.0,749.5 L1513.0,747.5 L1514.0,745.4 L1515.0,743.2 L1516.0,740.9 L1517.0,738.5 L1518.0,735.8 L1519.0,732.9 L1520.0,729.8 L1521.0,726.5 L1522.0,722.9 L1523.0,719.1 L1524.0,715.1 L1525.0,710.9 L1526.0,706.2 L1527.0,701.0 L1528.0,695.3 L1529.0,689.3 L1530.0,682.9 L1531.0,676.3 L1532.0,669.4 L1533.0,661.7 L1534.0,653.5 L1535.0,645.2 L1536.0,636.9 L1537.0,628.7 L1538.0,620.7 L1539.0,612.5 L1540.0,604.0 L1541.0,595.2 L1542.0,585.8 L1543.0,575.6 L1544.0,564.6 L1545.0,552.8 L1546.0,540.3 L1547.0,527.2 L1548.0,513.3 L1549.0,498.3 L1550.0,482.6 L1551.0,466.8 L1552.0,450.0 L1553.0,432.7 L1554.0,416.2 L1555.0,401.7 L1556.0,388.5 L1557.0,376.6 L1558.0,365.9 L1559.0,356.6 L1560.0,348.1 L1561.0,340.1 L1562.0,332.1 L1563.0,323.4 L1564.0,313.7 L1565.0,304.0 L1566.0,295.4 L1567.0,289.0 L1568.0,284.2 L1569.0,279.6 L1570.0,275.4 L1571.0,271.6 L1572.0,268.4 L1573.0,266.1 L1574.0,264.7 L1575.0,264.3 L1576.0,265.2 L1577.0,267.0 L1578.0,269.8 L1579.0,273.3 L1580.0,277.3 L1581.0,281.7 L1582.0,286.2 L1583.0,291.0 L1584.0,297.1 L1585.0,304.6 L1586.0,312.8 L1587.0,321.3 L1588.0,329.5 L1589.0,337.8 L1590.0,346.3 L1591.0,355.1 L1592.0,364.1 L1593.0,373.5 L1594.0,383.1 L1595.0,393.2 L1596.0,403.6 L1597.0,414.7 L1598.0,426.3 L1599.0,438.5 L1600.0,451.4 L1601.0,465.3 L1602.0,478.7 L1603.0,491.0 L1604.0,502.6 L1605.0,513.8 L1606.0,524.7 L1607.0,535.4 L1608.0,546.0 L1609.0,556.2 L1610.0,565.9 L1611.0,575.0 L1612.0,583.6 L1613.0,592.0 L1614.0,600.0 L1615.0,607.7 L1616.0,614.9 L1617.0,621.5 L1618.0,627.5 L1619.0,632.9 L1620.0,638.0 L1621.0,642.8 L1622.0,647.3 L1623.0,651.6 L1624.0,655.6 L1625.0,659.3 L1626.0,662.8 L1627.0,666.2 L1628.0,669.5 L1629.0,672.6 L1630.0,675.4 L1631.0,677.9 L1632.0,680.0 L1633.0,681.9 L1634.0,683.6 L1635.0,685.2 L1636.0,686.6 L1637.0,688.0 L1638.0,689.3 L1639.0,690.4 L1640.0,691.5 L1641.0,692.5 L1642.0,693.4 L1643.0,694.3 L1644.0,695.1 L1645.0,695.9 L1646.0,696.6 L1647.0,697.3 L1648.0,697.9 L1649.0,698.6 L1650.0,699.2 L1651.0,699.8 L1652.0,700.4 L1653.0,701.0 L1654.0,701.6 L1655.0,702.1 L1656.0,702.6 L1657.0,703.1 L1658.0,703.6 L1659.0,704.1 L1660.0,704.5 L1661.0,705.0 L1662.0,705.5 L1663.0,705.9 L1664.0,706.4 L1665.0,706.9 L1666.0,707.4 L1667.0,708.0 L1668.0,708.6 L1669.0,709.1 L1670.0,709.7 L1671.0,710.3 L1672.0,710.9 L1673.0,711.5 L1674.0,712.1 L1675.0,712.7 L1676.0,713.4 L1677.0,714.1 L1678.0,714.7 L1679.0,715.5 L1680.0,716.2 L1681.0,717.0 L1682.0,717.8 L1683.0,718.7 L1684.0,719.6 L1685.0,720.6 L1686.0,721.9 L1687.0,723.1 L1688.0,724.4 L1689.0,725.7 L1690.0,726.9 L1691.0,727.9 L1692.0,728.9 L1693.0,729.8 L1694.0,730.7 L1695.0,731.6 L1696.0,732.4 L1697.0,733.2 L1698.0,734.0 L1699.0,734.8 L1700.0,735.5 L1701.0,736.2 L1702.0,736.9 L1703.0,737.6 L1704.0,738.3 L1705.0,739.1 L1706.0,739.8 L1707.0,740.6 L1708.0,741.4 L1709.0,742.3 L1710.0,743.2 L1711.0,744.1 L1712.0,745.1 L1713.0,746.1 L1714.0,747.0 L1715.0,747.9 L1716.0,748.6 L1717.0,749.3 L1718.0,750.0 L1719.0,750.5 L1720.0,751.0 L1721.0,751.5 L1722.0,752.0 L1723.0,752.4 L1724.0,752.9 L1725.0,753.3 L1726.0,753.7 L1727.0,754.1 L1728.0,754.5 L1729.0,754.8 L1730.0,755.2 L1731.0,755.5 L1732.0,755.8 L1733.0,756.1 L1734.0,756.5 L1735.0,756.8 L1736.0,757.1 L1737.0,757.5 L1738.0,757.8 L1739.0,758.2 L1740.0,758.7 L1741.0,759.1 L1742.0,759.6 L1743.0,760.2 L1744.0,760.7 L1745.0,761.1 L1746.0,761.6 L1747.0,762.0 L1748.0,762.4 L1749.0,762.7 L1750.0,762.9 L1751.0,763.1 L1752.0,763.2 L1753.0,763.2 L1754.0,763.3 L1755.0,763.4 L1756.0,763.4 L1757.0,763.5 L1758.0,763.5 L1759.0,763.6 L1760.0,763.6 L1761.0,763.7 L1762.0,763.7 L1763.0,763.7 L1764.0,763.8 L1765.0,763.8 L1766.0,763.8 L1767.0,763.8 L1768.0,763.8 L1769.0,763.8 L1770.0,763.8 L1771.0,763.8 L1772.0,763.8 L1773.0,763.7 L1774.0,763.7 L1775.0,763.7 L1776.0,763.7 L1777.0,763.6 L1778.0,763.6 L1779.0,763.6 L1780.0,763.5 L1781.0,763.5 L1782.0,763.4 L1783.0,763.4 L1784.0,763.3 L1785.0,763.3 L1786.0,763.2 L1787.0,763.2 L1788.0,763.1 L1789.0,763.0 L1790.0,762.9 L1791.0,762.8 L1792.0,762.7 L1793.0,762.6 L1794.0,762.4 L1795.0,762.3 L1796.0,762.1 L1797.0,762.0 L1798.0,761.8 L1799.0,761.7 L1800.0,761.5 L1801.0,761.3 L1802.0,761.1 L1803.0,760.8 L1804.0,760.4 L1805.0,760.1 L1806.0,759.7 L1807.0,759.3 L1808.0,758.8 L1809.0,758.4 L1810.0,758.0 L1811.0,757.6 L1812.0,757.1 L1813.0,756.7 L1814.0,756.4 L1815.0,756.0 L1816.0,755.7 L1817.0,755.4 L1818.0,755.2 L1819.0,755.0 L1820.0,754.9 L1821.0,754.8 L1822.0,754.7 L1823.0,754.6 L1824.0,754.5 L1825.0,754.4 L1826.0,754.4 L1827.0,754.3 L1828.0,754.2 L1829.0,754.1 L1830.0,754.0 L1831.0,754.0 L1832.0,753.9 L1833.0,753.8 L1834.0,753.8 L1835.0,753.7 L1836.0,753.6 L1837.0,753.6 L1838.0,753.5 L1839.0,753.4 L1840.0,753.4 L1841.0,753.3 L1842.0,753.3 L1843.0,753.2 L1844.0,753.2 L1845.0,753.1 L1846.0,753.1 L1847.0,753.1 L1848.0,753.0 L1849.0,753.0 L1850.0,753.0 L1851.0,752.9 L1852.0,752.9 L1853.0,752.9 L1854.0,752.8 L1855.0,752.8 L1856.0,752.8 L1857.0,752.8 L1858.0,752.8 L1859.0,752.7 L1860.0,752.7 L1861.0,752.7 L1862.0,752.7 L1863.0,752.7 L1864.0,752.7 L1865.0,752.7 L1866.0,752.7 L1867.0,752.7 L1868.0,752.7 L1869.0,752.8 L1870.0,752.8 L1871.0,752.9 L1872.0,752.9 L1873.0,753.0 L1874.0,753.1 L1875.0,753.1 L1876.0,753.2 L1877.0,753.3 L1878.0,753.4 L1879.0,753.5 L1880.0,753.6 L1881.0,753.7 L1882.0,753.8 L1883.0,753.9 L1884.0,754.0 L1885.0,754.2 L1886.0,754.3 L1887.0,754.4 L1888.0,754.5 L1889.0,754.7 L1890.0,754.8 L1891.0,754.9 L1892.0,755.1 L1893.0,755.2 L1894.0,755.3 L1895.0,755.5 L1896.0,755.6 L1897.0,755.7 L1898.0,755.9 L1899.0,756.0 L1900.0,756.1 L1901.0,756.2 L1902.0,756.4 L1903.0,756.5 L1904.0,756.6 L1905.0,756.7 L1906.0,756.8 L1907.0,756.9 L1908.0,757.0 L1909.0,757.1 L1910.0,757.2 L1911.0,757.3 L1912.0,757.4 L1913.0,757.5 L1914.0,757.6 L1915.0,757.7 L1916.0,757.8 L1917.0,757.9 L1918.0,758.0 L1919.0,758.1 L1920.0,758.2 L1921.0,758.3 L1922.0,758.4 L1923.0,758.5 L1924.0,758.6 L1925.0,758.7 L1926.0,758.8 L1927.0,758.9 L1928.0,759.0 L1929.0,759.1 L1930.0,759.2 L1931.0,759.3 L1932.0,759.4 L1933.0,759.5 L1934.0,759.6 L1935.0,759.7 L1936.0,759.7 L1937.0,759.8 L1938.0,759.9 L1939.0,760.0 L1940.0,760.1 L1941.0,760.2 L1942.0,760.2 L1943.0,760.3 L1944.0,760.4 L1945.0,760.4 L1946.0,760.5 L1947.0,760.6 L1948.0,760.6 L1949.0,760.7 L1950.0,760.7 L1951.0,760.8 L1952.0,760.8 L1953.0,760.8 L1954.0,760.9 L1955.0,760.9 L1956.0,760.9 L1957.0,761.0 L1958.0,761.0 L1959.0,761.0 L1960.0,761.1 L1961.0,761.1 L1962.0,761.1 L1963.0,761.1 L1964.0,761.2 L1965.0,761.2 L1966.0,761.2 L1967.0,761.2 L1968.0,761.3 L1969.0,761.3 L1970.0,761.3 L1971.0,761.3 L1972.0,761.4 L1973.0,761.4 L1974.0,761.4 L1975.0,761.4 L1976.0,761.4 L1977.0,761.5 L1978.0,761.5 L1979.0,761.5 L1980.0,761.5 L1981.0,761.5 L1982.0,761.6 L1983.0,761.6 L1984.0,761.6 L1985.0,761.6 L1986.0,761.6 L1987.0,761.6 L1988.0,761.6 L1989.0,761.6 L1990.0,761.7 L1991.0,761.7 L1992.0,761.7 L1993.0,761.7 L1994.0,761.7 L1995.0,761.7 L1996.0,761.7 L1997.0,761.7 L1998.0,761.7 L1999.0,761.7 L2000.0,761.7 L2001.0,761.7 L2002.0,761.7 L2003.0,761.7 L2004.0,761.7 L2005.0,761.6 L2006.0,761.6 L2007.0,761.6 L2008.0,761.5 L2009.0,761.5 L2010.0,761.5 L2011.0,761.4 L2012.0,761.4 L2013.0,761.3 L2014.0,761.3 L2015.0,761.2 L2016.0,761.1 L2017.0,761.1 L2018.0,761.0 L2019.0,760.9 L2020.0,760.9 L2021.0,760.8 L2022.0,760.7 L2023.0,760.6 L2024.0,760.6 L2025.0,760.5 L2026.0,760.4 L2027.0,760.3 L2028.0,760.2 L2029.0,760.1 L2030.0,760.1 L2031.0,760.0 L2032.0,759.9 L2033.0,759.8 L2034.0,759.7 L2035.0,759.6 L2036.0,759.5 L2037.0,759.4 L2038.0,759.3 L2039.0,759.2 L2040.0,759.1 L2041.0,759.0 L2042.0,758.9 L2043.0,758.8 L2044.0,758.7 L2045.0,758.6 L2046.0,758.5 L2047.0,758.4 L2048.0,758.3 L2049.0,758.2 L2050.0,758.1 L2051.0,758.0 L2052.0,757.8 L2053.0,757.7 L2054.0,757.6 L2055.0,757.4 L2056.0,757.3 L2057.0,757.1 L2058.0,757.0 L2059.0,756.8 L2060.0,756.7 L2061.0,756.5 L2062.0,756.3 L2063.0,756.2 L2064.0,756.0 L2065.0,755.8 L2066.0,755.7 L2067.0,755.5 L2068.0,755.3 L2069.0,755.2 L2070.0,755.0 L2071.0,754.8 L2072.0,754.6 L2073.0,754.4 L2074.0,754.3 L2075.0,754.1 L2076.0,753.9 L2077.0,753.7 L2078.0,753.5 L2079.0,753.3 L2080.0,753.0 L2081.0,752.8 L2082.0,752.6 L2083.0,752.3 L2084.0,752.1 L2085.0,751.9 L2086.0,751.6 L2087.0,751.4 L2088.0,751.1 L2089.0,750.9 L2090.0,750.6 L2091.0,750.4 L2092.0,750.1 L2093.0,749.9 L2094.0,749.6 L2095.0,749.4 L2096.0,749.2 L2097.0,748.9 L2098.0,748.7 L2099.0,748.5 L2100.0,748.3 L2101.0,748.1 L2102.0,747.9 L2103.0,747.7 L2104.0,747.5 L2105.0,747.3 L2106.0,747.0 L2107.0,746.8 L2108.0,746.6 L2109.0,746.4 L2110.0,746.2 L2111.0,746.0 L2112.0,745.7 L2113.0,745.5 L2114.0,745.3 L2115.0,745.1 L2116.0,744.9 L2117.0,744.7 L2118.0,744.5 L2119.0,744.3 L2120.0,744.1 L2121.0,743.9 L2122.0,743.7 L2123.0,743.5 L2124.0,743.3 L2125.0,743.1 L2126.0,743.0 L2127.0,742.8 L2128.0,742.7 L2129.0,742.5 L2130.0,742.4 L2131.0,742.3 L2132.0,742.2 L2133.0,742.1 L2134.0,742.0 L2135.0,741.9 L2136.0,741.9 L2137.0,741.8 L2138.0,741.8 L2139.0,741.7 L2140.0,741.7 L2141.0,741.6 L2142.0,741.6 L2143.0,741.6 L2144.0,741.5 L2145.0,741.5 L2146.0,741.4 L2147.0,741.4 L2148.0,741.4 L2149.0,741.3 L2150.0,741.3 L2151.0,741.3 L2152.0,741.2 L2153.0,741.2 L2154.0,741.2 L2155.0,741.2 L2156.0,741.1 L2157.0,741.1 L2158.0,741.1 L2159.0,741.1 L2160.0,741.0 L2161.0,741.0 L2162.0,741.0 L2163.0,741.0 L2164.0,741.0 L2165.0,741.0 L2166.0,740.9 L2167.0,740.9 L2168.0,740.9 L2169.0,740.9 L2170.0,740.9 L2171.0,740.9 L2172.0,740.9 L2173.0,740.9 L2174.0,740.9 L2175.0,740.9 L2176.0,740.9 L2177.0,740.9 L2178.0,740.9 L2179.0,740.9 L2180.0,740.9 L2181.0,740.9 L2182.0,740.9 L2183.0,740.9 L2184.0,740.9 L2185.0,740.9 L2186.0,740.9 L2187.0,740.9 L2188.0,740.9 L2189.0,740.9 L2190.0,740.9 L2191.0,740.9 L2192.0,740.9 L2193.0,740.9 L2194.0,740.9 L2195.0,740.9 L2196.0,740.9 L2197.0,740.9 L2198.0,740.9 L2199.0,740.9 L2200.0,740.9 L2201.0,740.9 L2202.0,740.9 L2203.0,740.9 L2204.0,740.9 L2205.0,740.9 L2206.0,740.9 L2207.0,740.9 L2208.0,740.9 L2209.0,740.9 L2210.0,740.9 L2211.0,740.9 L2212.0,740.8 L2213.0,740.8 L2214.0,740.7 L2215.0,740.7 L2216.0,740.6 L2217.0,740.5 L2218.0,740.4 L2219.0,740.3 L2220.0,740.2 L2221.0,740.1 L2222.0,740.0 L2223.0,739.9 L2224.0,739.8 L2225.0,739.7 L2226.0,739.6 L2227.0,739.5 L2228.0,739.4 L2229.0,739.3 L2230.0,739.2 L2231.0,739.0 L2232.0,738.9 L2233.0,738.8 L2234.0,738.7 L2235.0,738.7 L2236.0,738.6 L2237.0,738.5 L2238.0,738.4 L2239.0,738.4 L2240.0,738.3 L2241.0,738.3 L2242.0,738.2 L2243.0,738.2 L2244.0,738.2 L2245.0,738.2 L2246.0,738.2 L2247.0,738.2 L2248.0,738.2 L2249.0,738.2 L2250.0,738.2 L2251.0,738.2 L2252.0,738.2 L2253.0,738.2 L2254.0,738.2 L2255.0,738.2 L2256.0,738.2 L2257.0,738.2 L2258.0,738.2 L2259.0,738.2 L2260.0,738.2 L2261.0,738.2 L2262.0,738.2 L2263.0,738.2 L2264.0,738.2 L2265.0,738.2 L2266.0,738.2 L2267.0,738.2 L2268.0,738.2 L2269.0,738.2 L2270.0,738.2 L2271.0,738.2 L2272.0,738.2 L2273.0,738.2 L2274.0,738.2 L2275.0,738.2 L2276.0,738.2 L2277.0,738.2 L2278.0,738.2 L2279.0,738.2 L2280.0,738.2 L2281.0,738.2 L2282.0,738.2 L2283.0,738.2 L2284.0,738.2 L2285.0,738.2 L2286.0,738.2 L2287.0,738.2 L2288.0,738.3 L2289.0,738.3 L2290.0,738.3 L2291.0,738.3 L2292.0,738.3 L2293.0,738.4 L2294.0,738.4 L2295.0,738.4 L2296.0,738.4 L2297.0,738.5 L2298.0,738.5 L2299.0,738.5 L2300.0,738.5 L2301.0,738.6 L2302.0,738.6 L2303.0,738.6 L2304.0,738.7 L2305.0,738.7 L2306.0,738.7 L2307.0,738.8 L2308.0,738.8 L2309.0,738.8 L2310.0,738.9 L2311.0,738.9 L2312.0,739.0 L2313.0,739.0 L2314.0,739.0 L2315.0,739.1 L2316.0,739.1 L2317.0,739.2 L2318.0,739.2 L2319.0,739.3 L2320.0,739.3 L2321.0,739.4 L2322.0,739.5 L2323.0,739.6 L2324.0,739.7 L2325.0,739.7 L2326.0,739.8 L2327.0,739.9 L2328.0,740.0 L2329.0,740.1 L2330.0,740.2 L2331.0,740.4 L2332.0,740.5 L2333.0,740.6 L2334.0,740.7 L2335.0,740.8 L2336.0,740.9 L2337.0,741.0 L2338.0,741.1 L2339.0,741.2 L2340.0,741.2 L2341.0,741.3 L2342.0,741.4 L2343.0,741.5 L2344.0,741.5 L2345.0,741.6 L2346.0,741.7 L2347.0,741.7 L2348.0,741.7 L2349.0,741.8 L2350.0,741.8 L2351.0,741.8 L2352.0,741.8 L2353.0,741.8 L2354.0,741.8 L2355.0,741.8 L2356.0,741.8 L2357.0,741.8 L2358.0,741.8 L2359.0,741.8 L2360.0,741.8 L2361.0,741.7 L2362.0,741.7 L2363.0,741.7 L2364.0,741.7 L2365.0,741.7 L2366.0,741.6 L2367.0,741.6 L2368.0,741.6 L2369.0,741.6 L2370.0,741.5 L2371.0,741.5 L2372.0,741.5 L2373.0,741.4 L2374.0,741.4 L2375.0,741.3 L2376.0,741.3 L2377.0,741.2 L2378.0,741.2 L2379.0,741.1 L2380.0,741.1 L2381.0,741.0 L2382.0,740.9 L2383.0,740.9 L2384.0,740.8 L2385.0,740.7 L2386.0,740.7 L2387.0,740.6 L2388.0,740.5 L2389.0,740.4 L2390.0,740.3 L2391.0,740.2 L2392.0,740.1 L2393.0,740.0" fill="none" stroke="#000" stroke-width="5.0" stroke-linejoin="round" stroke-linecap="butt"/>
<path d="M1405.0,787.0 L1406.0,787.0 L1407.0,787.0 L1408.0,787.0 L1409.0,787.0 L1410.0,787.0 L1411.0,787.0 L1412.0,787.0 L1413.0,786.9 L1414.0,786.9 L1415.0,786.9 L1416.0,786.9 L1417.0,786.9 L1418.0,786.9 L1419.0,786.8 L1420.0,786.8 L1421.0,786.8 L1422.0,786.8 L1423.0,786.7 L1424.0,786.7 L1425.0,786.7 L1426.0,786.6 L1427.0,786.6 L1428.0,786.6 L1429.0,786.5 L1430.0,786.5 L1431.0,786.5 L1432.0,786.4 L1433.0,786.4 L1434.0,786.3 L1435.0,786.3 L1436.0,786.2 L1437.0,786.2 L1438.0,786.1 L1439.0,786.1 L1440.0,786.0 L1441.0,786.0 L1442.0,785.9 L1443.0,785.9 L1444.0,785.8 L1445.0,785.7 L1446.0,785.7 L1447.0,785.6 L1448.0,785.6 L1449.0,785.5 L1450.0,785.4 L1451.0,785.4 L1452.0,785.3 L1453.0,785.2 L1454.0,785.2 L1455.0,785.1 L1456.0,785.0 L1457.0,784.9 L1458.0,784.9 L1459.0,784.8 L1460.0,784.7 L1461.0,784.6 L1462.0,784.6 L1463.0,784.5 L1464.0,784.4 L1465.0,784.3 L1466.0,784.2 L1467.0,784.2 L1468.0,784.1 L1469.0,784.0 L1470.0,783.9 L1471.0,783.8 L1472.0,783.7 L1473.0,783.6 L1474.0,783.6 L1475.0,783.5 L1476.0,783.4 L1477.0,783.3 L1478.0,783.2 L1479.0,783.1 L1480.0,783.0 L1481.0,782.9 L1482.0,782.8 L1483.0,782.6 L1484.0,782.5 L1485.0,782.3 L1486.0,782.2 L1487.0,782.0 L1488.0,781.8 L1489.0,781.6 L1490.0,781.4 L1491.0,781.2 L1492.0,781.0 L1493.0,780.7 L1494.0,780.5 L1495.0,780.2 L1496.0,780.0 L1497.0,779.7 L1498.0,779.5 L1499.0,779.2 L1500.0,778.9 L1501.0,778.6 L1502.0,778.3 L1503.0,778.0 L1504.0,777.7 L1505.0,777.4 L1506.0,777.0 L1507.0,776.7 L1508.0,776.3 L1509.0,775.9 L1510.0,775.5 L1511.0,775.0 L1512.0,774.6 L1513.0,774.1 L1514.0,773.6 L1515.0,773.1 L1516.0,772.5 L1517.0,772.0 L1518.0,771.4 L1519.0,770.7 L1520.0,770.0 L1521.0,769.2 L1522.0,768.3 L1523.0,767.4 L1524.0,766.4 L1525.0,765.4 L1526.0,764.3 L1527.0,763.1 L1528.0,761.9 L1529.0,760.6 L1530.0,759.2 L1531.0,757.8 L1532.0,756.1 L1533.0,754.3 L1534.0,752.2 L1535.0,750.0 L1536.0,747.6 L1537.0,745.0 L1538.0,742.2 L1539.0,739.3 L1540.0,735.8 L1541.0,731.9 L1542.0,727.6 L1543.0,722.9 L1544.0,718.1 L1545.0,713.2 L1546.0,708.2 L1547.0,703.0 L1548.0,697.6 L1549.0,691.9 L1550.0,685.9 L1551.0,679.6 L1552.0,672.9 L1553.0,665.6 L1554.0,657.7 L1555.0,649.4 L1556.0,641.0 L1557.0,632.8 L1558.0,624.5 L1559.0,616.1 L1560.0,607.6 L1561.0,598.9 L1562.0,590.0 L1563.0,580.9 L1564.0,571.7 L1565.0,562.5 L1566.0,553.0 L1567.0,542.9 L1568.0,531.8 L1569.0,519.6 L1570.0,505.6 L1571.0,490.1 L1572.0,473.4 L1573.0,453.7 L1574.0,438.3 L1575.0,427.3 L1576.0,418.1 L1577.0,409.4 L1578.0,400.4 L1579.0,391.6 L1580.0,383.2 L1581.0,375.0 L1582.0,366.9 L1583.0,358.5 L1584.0,349.9 L1585.0,341.7 L1586.0,334.3 L1587.0,328.4 L1588.0,323.6 L1589.0,318.9 L1590.0,314.3 L1591.0,310.1 L1592.0,306.2 L1593.0,303.0 L1594.0,300.5 L1595.0,298.8 L1596.0,298.0 L1597.0,298.4 L1598.0,300.0 L1599.0,302.7 L1600.0,306.2 L1601.0,310.3 L1602.0,314.8 L1603.0,319.7 L1604.0,324.5 L1605.0,329.4 L1606.0,334.7 L1607.0,340.9 L1608.0,347.7 L1609.0,355.1 L1610.0,362.9 L1611.0,371.2 L1612.0,381.1 L1613.0,391.7 L1614.0,402.0 L1615.0,411.1 L1616.0,419.4 L1617.0,427.4 L1618.0,435.7 L1619.0,444.8 L1620.0,454.8 L1621.0,465.6 L1622.0,477.5 L1623.0,491.8 L1624.0,508.3 L1625.0,522.5 L1626.0,533.1 L1627.0,542.5 L1628.0,550.9 L1629.0,558.8 L1630.0,566.4 L1631.0,574.2 L1632.0,582.3 L1633.0,590.5 L1634.0,598.6 L1635.0,606.5 L1636.0,613.9 L1637.0,620.8 L1638.0,626.9 L1639.0,632.4 L1640.0,637.6 L1641.0,642.5 L1642.0,647.0 L1643.0,651.3 L1644.0,655.3 L1645.0,659.0 L1646.0,662.5 L1647.0,665.7 L1648.0,668.8 L1649.0,671.8 L1650.0,674.5 L1651.0,677.1 L1652.0,679.5 L1653.0,681.7 L1654.0,683.7 L1655.0,685.5 L1656.0,687.3 L1657.0,689.0 L1658.0,690.6 L1659.0,692.1 L1660.0,693.5 L1661.0,694.8 L1662.0,696.0 L1663.0,697.0 L1664.0,697.9 L1665.0,698.8 L1666.0,699.6 L1667.0,700.3 L1668.0,700.9 L1669.0,701.6 L1670.0,702.1 L1671.0,702.7 L1672.0,703.3 L1673.0,703.9 L1674.0,704.5 L1675.0,705.1 L1676.0,705.7 L1677.0,706.3 L1678.0,706.9 L1679.0,707.4 L1680.0,708.0 L1681.0,708.5 L1682.0,709.1 L1683.0,709.6 L1684.0,710.2 L1685.0,710.7 L1686.0,711.3 L1687.0,711.9 L1688.0,712.5 L1689.0,713.1 L1690.0,713.8 L1691.0,714.4 L1692.0,715.1 L1693.0,715.7 L1694.0,716.4 L1695.0,717.1 L1696.0,717.7 L1697.0,718.4 L1698.0,719.0 L1699.0,719.6 L1700.0,720.2 L1701.0,720.8 L1702.0,721.3 L1703.0,721.9 L1704.0,722.4 L1705.0,722.9 L1706.0,723.4 L1707.0,723.8 L1708.0,724.3 L1709.0,724.8 L1710.0,725.3 L1711.0,725.8 L1712.0,726.3 L1713.0,726.8 L1714.0,727.3 L1715.0,727.8 L1716.0,728.4 L1717.0,729.0 L1718.0,729.5 L1719.0,730.1 L1720.0,730.7 L1721.0,731.3 L1722.0,731.8 L1723.0,732.4 L1724.0,732.9 L1725.0,733.5 L1726.0,734.0 L1727.0,734.4 L1728.0,734.9 L1729.0,735.3 L1730.0,735.7 L1731.0,736.0 L1732.0,736.4 L1733.0,736.7 L1734.0,737.1 L1735.0,737.4 L1736.0,737.7 L1737.0,738.1 L1738.0,738.4 L1739.0,738.7 L1740.0,739.1 L1741.0,739.5 L1742.0,739.8 L1743.0,740.2 L1744.0,740.6 L1745.0,741.0 L1746.0,741.4 L1747.0,741.8 L1748.0,742.2 L1749.0,742.6 L1750.0,743.0 L1751.0,743.4 L1752.0,743.9 L1753.0,744.3 L1754.0,744.7 L1755.0,745.1 L1756.0,745.5 L1757.0,745.9 L1758.0,746.3 L1759.0,746.8 L1760.0,747.2 L1761.0,747.6 L1762.0,748.0 L1763.0,748.5 L1764.0,748.9 L1765.0,749.2 L1766.0,749.6 L1767.0,749.9 L1768.0,750.3 L1769.0,750.6 L1770.0,750.9 L1771.0,751.2 L1772.0,751.4 L1773.0,751.7 L1774.0,752.0 L1775.0,752.2 L1776.0,752.5 L1777.0,752.7 L1778.0,752.9 L1779.0,753.2 L1780.0,753.3 L1781.0,753.5 L1782.0,753.7 L1783.0,753.8 L1784.0,753.9 L1785.0,754.1 L1786.0,754.2 L1787.0,754.3 L1788.0,754.4 L1789.0,754.5 L1790.0,754.7 L1791.0,754.8 L1792.0,754.9 L1793.0,754.9 L1794.0,755.0 L1795.0,755.1 L1796.0,755.2 L1797.0,755.3 L1798.0,755.4 L1799.0,755.4 L1800.0,755.5 L1801.0,755.6 L1802.0,755.6 L1803.0,755.7 L1804.0,755.8 L1805.0,755.8 L1806.0,755.9 L1807.0,755.9 L1808.0,756.0 L1809.0,756.1 L1810.0,756.1 L1811.0,756.2 L1812.0,756.2 L1813.0,756.3 L1814.0,756.3 L1815.0,756.4 L1816.0,756.4 L1817.0,756.5 L1818.0,756.5 L1819.0,756.5 L1820.0,756.6 L1821.0,756.6 L1822.0,756.7 L1823.0,756.7 L1824.0,756.8 L1825.0,756.8 L1826.0,756.8 L1827.0,756.9 L1828.0,756.9 L1829.0,757.0 L1830.0,757.0 L1831.0,757.0 L1832.0,757.1 L1833.0,757.1 L1834.0,757.2 L1835.0,757.2 L1836.0,757.2 L1837.0,757.3 L1838.0,757.3 L1839.0,757.4 L1840.0,757.4 L1841.0,757.4 L1842.0,757.5 L1843.0,757.5 L1844.0,757.5 L1845.0,757.5 L1846.0,757.6 L1847.0,757.6 L1848.0,757.6 L1849.0,757.7 L1850.0,757.7 L1851.0,757.7 L1852.0,757.7 L1853.0,757.8 L1854.0,757.8 L1855.0,757.8 L1856.0,757.9 L1857.0,757.9 L1858.0,757.9 L1859.0,757.9 L1860.0,758.0 L1861.0,758.0 L1862.0,758.0 L1863.0,758.1 L1864.0,758.1 L1865.0,758.1 L1866.0,758.1 L1867.0,758.2 L1868.0,758.2 L1869.0,758.2 L1870.0,758.3 L1871.0,758.3 L1872.0,758.4 L1873.0,758.4 L1874.0,758.4 L1875.0,758.5 L1876.0,758.5 L1877.0,758.6 L1878.0,758.6 L1879.0,758.7 L1880.0,758.7 L1881.0,758.8 L1882.0,758.8 L1883.0,758.9 L1884.0,759.0 L1885.0,759.0 L1886.0,759.1 L1887.0,759.2 L1888.0,759.3 L1889.0,759.3 L1890.0,759.4 L1891.0,759.5 L1892.0,759.6 L1893.0,759.7 L1894.0,759.8 L1895.0,759.9 L1896.0,760.0 L1897.0,760.1 L1898.0,760.2 L1899.0,760.4 L1900.0,760.5 L1901.0,760.6 L1902.0,760.7 L1903.0,760.8 L1904.0,760.9 L1905.0,761.1 L1906.0,761.2 L1907.0,761.3 L1908.0,761.4 L1909.0,761.5 L1910.0,761.6 L1911.0,761.8 L1912.0,761.9 L1913.0,762.0 L1914.0,762.1 L1915.0,762.2 L1916.0,762.3 L1917.0,762.4 L1918.0,762.5 L1919.0,762.6 L1920.0,762.8 L1921.0,762.9 L1922.0,763.0 L1923.0,763.1 L1924.0,763.1 L1925.0,763.2 L1926.0,763.3 L1927.0,763.4 L1928.0,763.5 L1929.0,763.6 L1930.0,763.7 L1931.0,763.8 L1932.0,763.9 L1933.0,764.0 L1934.0,764.2 L1935.0,764.3 L1936.0,764.4 L1937.0,764.5 L1938.0,764.6 L1939.0,764.7 L1940.0,764.8 L1941.0,764.9 L1942.0,765.0 L1943.0,765.1 L1944.0,765.2 L1945.0,765.3 L1946.0,765.5 L1947.0,765.6 L1948.0,765.7 L1949.0,765.8 L1950.0,765.8 L1951.0,765.9 L1952.0,766.0 L1953.0,766.1 L1954.0,766.2 L1955.0,766.3 L1956.0,766.4 L1957.0,766.4 L1958.0,766.5 L1959.0,766.6 L1960.0,766.6 L1961.0,766.7 L1962.0,766.7 L1963.0,766.8 L1964.0,766.8 L1965.0,766.8 L1966.0,766.9 L1967.0,766.9 L1968.0,766.9 L1969.0,766.9 L1970.0,766.9 L1971.0,766.9 L1972.0,766.9 L1973.0,766.9 L1974.0,766.9 L1975.0,766.9 L1976.0,766.9 L1977.0,766.9 L1978.0,766.9 L1979.0,766.9 L1980.0,766.8 L1981.0,766.8 L1982.0,766.8 L1983.0,766.8 L1984.0,766.8 L1985.0,766.8 L1986.0,766.8 L1987.0,766.8 L1988.0,766.7 L1989.0,766.7 L1990.0,766.7 L1991.0,766.7 L1992.0,766.7 L1993.0,766.6 L1994.0,766.6 L1995.0,766.6 L1996.0,766.6 L1997.0,766.6 L1998.0,766.5 L1999.0,766.5 L2000.0,766.5 L2001.0,766.5 L2002.0,766.4 L2003.0,766.4 L2004.0,766.4 L2005.0,766.4 L2006.0,766.3 L2007.0,766.3 L2008.0,766.3 L2009.0,766.3 L2010.0,766.2 L2011.0,766.2 L2012.0,766.2 L2013.0,766.1 L2014.0,766.1 L2015.0,766.1 L2016.0,766.0 L2017.0,766.0 L2018.0,766.0 L2019.0,765.9 L2020.0,765.9 L2021.0,765.8 L2022.0,765.8 L2023.0,765.7 L2024.0,765.7 L2025.0,765.6 L2026.0,765.5 L2027.0,765.5 L2028.0,765.4 L2029.0,765.3 L2030.0,765.2 L2031.0,765.2 L2032.0,765.1 L2033.0,765.0 L2034.0,764.9 L2035.0,764.8 L2036.0,764.7 L2037.0,764.6 L2038.0,764.5 L2039.0,764.5 L2040.0,764.4 L2041.0,764.3 L2042.0,764.2 L2043.0,764.1 L2044.0,764.0 L2045.0,763.9 L2046.0,763.8 L2047.0,763.7 L2048.0,763.6 L2049.0,763.5 L2050.0,763.4 L2051.0,763.3 L2052.0,763.1 L2053.0,763.0 L2054.0,762.9 L2055.0,762.8 L2056.0,762.7 L2057.0,762.6 L2058.0,762.5 L2059.0,762.4 L2060.0,762.3 L2061.0,762.2 L2062.0,762.1 L2063.0,762.0 L2064.0,761.9 L2065.0,761.8 L2066.0,761.7 L2067.0,761.6 L2068.0,761.5 L2069.0,761.4 L2070.0,761.2 L2071.0,761.1 L2072.0,761.0 L2073.0,760.9 L2074.0,760.8 L2075.0,760.6 L2076.0,760.5 L2077.0,760.4 L2078.0,760.3 L2079.0,760.1 L2080.0,760.0 L2081.0,759.9 L2082.0,759.7 L2083.0,759.6 L2084.0,759.5 L2085.0,759.3 L2086.0,759.2 L2087.0,759.1 L2088.0,758.9 L2089.0,758.8 L2090.0,758.7 L2091.0,758.5 L2092.0,758.4 L2093.0,758.2 L2094.0,758.1 L2095.0,757.9 L2096.0,757.8 L2097.0,757.6 L2098.0,757.5 L2099.0,757.4 L2100.0,757.2 L2101.0,757.1 L2102.0,756.9 L2103.0,756.8 L2104.0,756.6 L2105.0,756.4 L2106.0,756.3 L2107.0,756.1 L2108.0,755.9 L2109.0,755.7 L2110.0,755.5 L2111.0,755.4 L2112.0,755.2 L2113.0,755.0 L2114.0,754.8 L2115.0,754.6 L2116.0,754.4 L2117.0,754.2 L2118.0,754.0 L2119.0,753.8 L2120.0,753.6 L2121.0,753.4 L2122.0,753.2 L2123.0,753.0 L2124.0,752.8 L2125.0,752.7 L2126.0,752.5 L2127.0,752.3 L2128.0,752.1 L2129.0,751.9 L2130.0,751.8 L2131.0,751.6 L2132.0,751.4 L2133.0,751.3 L2134.0,751.1 L2135.0,751.0 L2136.0,750.8 L2137.0,750.7 L2138.0,750.6 L2139.0,750.5 L2140.0,750.3 L2141.0,750.2 L2142.0,750.1 L2143.0,749.9 L2144.0,749.8 L2145.0,749.7 L2146.0,749.6 L2147.0,749.4 L2148.0,749.3 L2149.0,749.2 L2150.0,749.1 L2151.0,748.9 L2152.0,748.8 L2153.0,748.7 L2154.0,748.6 L2155.0,748.5 L2156.0,748.4 L2157.0,748.3 L2158.0,748.2 L2159.0,748.1 L2160.0,748.0 L2161.0,747.9 L2162.0,747.8 L2163.0,747.7 L2164.0,747.6 L2165.0,747.6 L2166.0,747.5 L2167.0,747.4 L2168.0,747.3 L2169.0,747.3 L2170.0,747.2 L2171.0,747.2 L2172.0,747.1 L2173.0,747.1 L2174.0,747.1 L2175.0,747.0 L2176.0,747.0 L2177.0,747.0 L2178.0,746.9 L2179.0,746.9 L2180.0,746.9 L2181.0,746.9 L2182.0,746.8 L2183.0,746.8 L2184.0,746.8 L2185.0,746.8 L2186.0,746.8 L2187.0,746.7 L2188.0,746.7 L2189.0,746.7 L2190.0,746.7 L2191.0,746.7 L2192.0,746.7 L2193.0,746.6 L2194.0,746.6 L2195.0,746.6 L2196.0,746.6 L2197.0,746.6 L2198.0,746.6 L2199.0,746.5 L2200.0,746.5 L2201.0,746.5 L2202.0,746.5 L2203.0,746.4 L2204.0,746.4 L2205.0,746.4 L2206.0,746.4 L2207.0,746.3 L2208.0,746.3 L2209.0,746.3 L2210.0,746.3 L2211.0,746.2 L2212.0,746.2 L2213.0,746.1 L2214.0,746.1 L2215.0,746.0 L2216.0,746.0 L2217.0,745.9 L2218.0,745.9 L2219.0,745.8 L2220.0,745.8 L2221.0,745.7 L2222.0,745.7 L2223.0,745.6 L2224.0,745.6 L2225.0,745.5 L2226.0,745.4 L2227.0,745.4 L2228.0,745.3 L2229.0,745.3 L2230.0,745.2 L2231.0,745.1 L2232.0,745.1 L2233.0,745.0 L2234.0,745.0 L2235.0,744.9 L2236.0,744.9 L2237.0,744.8 L2238.0,744.8 L2239.0,744.7 L2240.0,744.7 L2241.0,744.6 L2242.0,744.6 L2243.0,744.5 L2244.0,744.5 L2245.0,744.5 L2246.0,744.4 L2247.0,744.4 L2248.0,744.4 L2249.0,744.3 L2250.0,744.3 L2251.0,744.3 L2252.0,744.2 L2253.0,744.2 L2254.0,744.2 L2255.0,744.1 L2256.0,744.1 L2257.0,744.1 L2258.0,744.0 L2259.0,744.0 L2260.0,744.0 L2261.0,743.9 L2262.0,743.9 L2263.0,743.9 L2264.0,743.8 L2265.0,743.8 L2266.0,743.8 L2267.0,743.8 L2268.0,743.7 L2269.0,743.7 L2270.0,743.7 L2271.0,743.7 L2272.0,743.7 L2273.0,743.7 L2274.0,743.6 L2275.0,743.6 L2276.0,743.6 L2277.0,743.6 L2278.0,743.6 L2279.0,743.6 L2280.0,743.6 L2281.0,743.6 L2282.0,743.6 L2283.0,743.6 L2284.0,743.6 L2285.0,743.7 L2286.0,743.7 L2287.0,743.7 L2288.0,743.8 L2289.0,743.8 L2290.0,743.8 L2291.0,743.9 L2292.0,743.9 L2293.0,744.0 L2294.0,744.0 L2295.0,744.1 L2296.0,744.2 L2297.0,744.2 L2298.0,744.3 L2299.0,744.4 L2300.0,744.4 L2301.0,744.5 L2302.0,744.6 L2303.0,744.6 L2304.0,744.7 L2305.0,744.8 L2306.0,744.8 L2307.0,744.9 L2308.0,745.0 L2309.0,745.0 L2310.0,745.1 L2311.0,745.1 L2312.0,745.2 L2313.0,745.3 L2314.0,745.3 L2315.0,745.4 L2316.0,745.4 L2317.0,745.5 L2318.0,745.5 L2319.0,745.6 L2320.0,745.6 L2321.0,745.7 L2322.0,745.7 L2323.0,745.8 L2324.0,745.9 L2325.0,745.9 L2326.0,746.0 L2327.0,746.1 L2328.0,746.1 L2329.0,746.2 L2330.0,746.3 L2331.0,746.3 L2332.0,746.4 L2333.0,746.4 L2334.0,746.5 L2335.0,746.6 L2336.0,746.6 L2337.0,746.7 L2338.0,746.7 L2339.0,746.8 L2340.0,746.8 L2341.0,746.9 L2342.0,746.9 L2343.0,746.9 L2344.0,747.0 L2345.0,747.0 L2346.0,747.0 L2347.0,747.1 L2348.0,747.1 L2349.0,747.1 L2350.0,747.1 L2351.0,747.1 L2352.0,747.1 L2353.0,747.1 L2354.0,747.1 L2355.0,747.1 L2356.0,747.1 L2357.0,747.1 L2358.0,747.1 L2359.0,747.1 L2360.0,747.1 L2361.0,747.1 L2362.0,747.1 L2363.0,747.1 L2364.0,747.1 L2365.0,747.1 L2366.0,747.1 L2367.0,747.1 L2368.0,747.1 L2369.0,747.1 L2370.0,747.1 L2371.0,747.1 L2372.0,747.1 L2373.0,747.1 L2374.0,747.1 L2375.0,747.1 L2376.0,747.1 L2377.0,747.1 L2378.0,747.1 L2379.0,747.1 L2380.0,747.1 L2381.0,747.1 L2382.0,747.1 L2383.0,747.1 L2384.0,747.1 L2385.0,747.1 L2386.0,747.1 L2387.0,747.1 L2388.0,747.1 L2389.0,747.1 L2390.0,747.1 L2391.0,747.1 L2392.0,747.1 L2393.0,747.1" fill="none" stroke="#ff0000" stroke-width="5.0" stroke-linejoin="round" stroke-linecap="butt"/>
<path d="M157.2,1763.2 L163.0,1770.4 L172.2,1791.2 L180.0,1754.8 L186.5,1819.9 L193.0,1823.8 L199.5,1818.6 L206.0,1795.2 L213.9,1812.1 L219.1,1808.2 L224.3,1784.7 L232.1,1779.5 L238.6,1743.0 L245.1,1788.6 L253.0,1790.0 L258.2,1819.9 L264.7,1797.8 L273.8,1800.4 L284.2,1797.8 L289.4,1810.8 L298.6,1809.5 L305.1,1840.8 L318.1,1756.1 L331.1,1844.7 L337.6,1819.9 L345.5,1842.1 L352.0,1831.6 L365.0,1752.2 L371.5,1792.5 L378.0,1803.0 L384.6,1793.9 L389.8,1797.8 L396.3,1860.3 L404.1,1813.4 L415.5,1862.5 L422.7,1829.0 L428.6,1823.9 L438.8,1805.3 L449.0,1754.5 L456.6,1749.4 L464.2,1756.2 L476.1,1807.0 L482.8,1783.3 L489.6,1788.3 L493.0,1702.0 L501.5,1695.2 L509.1,1630.8 L515.9,1663.0 L520.1,1597.0 L528.8,1508.3 L535.6,1576.1 L540.7,1528.7 L547.4,1455.8 L555.9,1450.7 L566.1,1327.1 L577.9,1325.4 L582.1,1316.1 L586.4,1350.8 L594.9,1349.1 L601.6,1379.6 L615.2,1335.6 L622.0,1344.0 L628.7,1377.9 L635.5,1381.3 L642.3,1415.2 L649.0,1408.4 L659.2,1486.3 L669.4,1488.0 L675.3,1486.3 L682.9,1569.3 L693.1,1589.6 L700.7,1532.0 L708.3,1550.7 L718.9,1643.1 L726.1,1646.8 L733.4,1677.5 L742.4,1782.3 L749.6,1791.3 L758.7,1767.8 L765.9,1793.1 L778.6,1728.1 L791.2,1802.2 L805.7,1766.0 L816.5,1800.4 L824.6,1849.2 L838.2,1813.0 L845.4,1832.9 L852.7,1825.7 L865.3,1771.5 L874.3,1802.2 L883.4,1802.2 L890.6,1787.7 L897.8,1829.3 L906.9,1802.2 L923.1,1802.2 L928.6,1809.4 L937.5,1805.0 L943.8,1838.9 L957.1,1769.9 L969.8,1857.0 L976.7,1832.5 L983.1,1841.0 L996.4,1761.4 L1012.8,1820.9 L1027.7,1797.5 L1036.2,1793.3 L1043.1,1778.4 L1055.3,1831.5 L1064.8,1831.5 L1069.1,1835.7 L1075.5,1785.8 L1081.8,1802.8 L1087.1,1797.5 L1095.6,1760.3 L1101.0,1793.3 L1109.4,1788.0 L1114.8,1809.2 L1128.6,1791.1 L1138.1,1821.9 L1142.4,1825.1" fill="none" stroke="#ff0000" stroke-width="5.0" stroke-linejoin="round" stroke-linecap="butt"/>
<path d="M1405.6,1521.2 L1408.1,1431.2 L1410.5,1448.6 L1413.0,1360.9 L1415.5,1442.6 L1418.0,1424.1 L1420.4,1530.0 L1422.9,1568.6 L1425.4,1500.3 L1427.9,1442.2 L1430.3,1492.7 L1432.8,1523.5 L1435.3,1520.8 L1437.7,1453.5 L1440.2,1453.5 L1442.7,1453.5 L1445.2,1500.9 L1447.6,1500.9 L1450.1,1485.4 L1452.6,1489.5 L1455.1,1421.9 L1457.5,1429.7 L1460.0,1421.9 L1462.5,1444.6 L1465.0,1439.8 L1467.4,1485.1 L1469.9,1485.1 L1472.4,1485.1 L1474.8,1455.8 L1477.3,1455.8 L1479.8,1460.1 L1482.3,1491.9 L1484.7,1483.4 L1487.2,1473.8 L1489.7,1556.5 L1492.2,1570.9 L1494.6,1542.7 L1497.1,1523.5 L1499.6,1524.2 L1502.0,1534.1 L1504.5,1539.3 L1507.0,1539.3 L1509.5,1569.1 L1511.9,1598.0 L1514.4,1547.2 L1516.9,1487.8 L1519.4,1379.0 L1521.8,1379.0 L1524.3,1411.1 L1526.8,1491.9 L1529.2,1409.3 L1531.7,1377.9 L1534.2,1452.3 L1536.7,1537.0 L1539.1,1481.6 L1541.6,1397.5 L1544.1,1450.5 L1546.6,1379.0 L1549.0,1401.1 L1551.5,1438.6 L1554.0,1434.0 L1556.4,1476.1 L1558.9,1623.4 L1561.4,1640.9 L1563.9,1640.9 L1566.3,1441.4 L1568.8,1404.7 L1571.3,1392.6 L1573.8,1481.1 L1576.2,1557.2 L1578.7,1638.6 L1581.2,1638.6 L1583.7,1611.7 L1586.1,1600.6 L1588.6,1557.3 L1591.1,1591.2 L1593.5,1542.7 L1596.0,1458.0 L1598.5,1459.3 L1601.0,1487.6 L1603.4,1509.9 L1605.9,1509.9 L1608.4,1509.9 L1610.9,1472.2 L1613.3,1458.0 L1615.8,1457.1 L1618.3,1453.5 L1620.7,1453.5 L1623.2,1453.5 L1625.7,1591.8 L1628.2,1593.9 L1630.6,1640.9 L1633.1,1591.8 L1635.6,1576.8 L1638.1,1548.3 L1640.5,1593.4 L1643.0,1632.0 L1645.5,1642.2 L1647.9,1679.2 L1650.4,1670.2 L1652.9,1662.7 L1655.4,1659.2 L1657.8,1639.3 L1660.3,1631.8 L1662.8,1580.4 L1665.3,1534.3 L1667.7,1440.0 L1670.2,1440.0 L1672.7,1456.7 L1675.1,1564.1 L1677.6,1562.4 L1680.1,1558.7 L1682.6,1548.3 L1685.0,1503.6 L1687.5,1360.4 L1690.0,1318.1 L1692.5,1318.1 L1694.9,1382.3 L1697.4,1528.0 L1699.9,1542.7 L1702.4,1534.4 L1704.8,1555.1 L1707.3,1513.0 L1709.8,1356.4 L1712.2,1356.4 L1714.7,1412.9 L1717.2,1467.0 L1719.7,1467.0 L1722.1,1421.6 L1724.6,1363.2 L1727.1,1388.5 L1729.6,1416.6 L1732.0,1508.1 L1734.5,1532.5 L1737.0,1529.2 L1739.4,1507.7 L1741.9,1512.7 L1744.4,1555.1 L1746.9,1555.1 L1749.3,1527.1 L1751.8,1496.6 L1754.3,1440.0 L1756.8,1513.4 L1759.2,1546.0 L1761.7,1546.0 L1764.2,1516.5 L1766.6,1499.2 L1769.1,1485.1 L1771.6,1503.5 L1774.1,1506.7 L1776.5,1634.0 L1779.0,1634.0 L1781.5,1572.2 L1784.0,1494.8 L1786.4,1494.8 L1788.9,1516.7 L1791.4,1529.8 L1793.9,1538.3 L1796.3,1484.2 L1798.8,1450.3 L1801.3,1460.1 L1803.7,1537.8 L1806.2,1601.3 L1808.7,1615.1 L1811.2,1582.7 L1813.6,1536.1 L1816.1,1556.3 L1818.6,1552.7 L1821.1,1617.5 L1823.5,1671.5 L1826.0,1618.7 L1828.5,1643.3 L1830.9,1642.0 L1833.4,1602.6 L1835.9,1581.5 L1838.4,1531.6 L1840.8,1611.5 L1843.3,1637.7 L1845.8,1633.5 L1848.3,1633.5 L1850.7,1628.6 L1853.2,1644.4 L1855.7,1639.0 L1858.1,1541.9 L1860.6,1521.4 L1863.1,1521.4 L1865.6,1521.4 L1868.0,1638.3 L1870.5,1623.8 L1873.0,1687.3 L1875.5,1618.1 L1877.9,1660.2 L1880.4,1587.2 L1882.9,1527.0 L1885.3,1527.0 L1887.8,1527.0 L1890.3,1589.5 L1892.8,1646.7 L1895.2,1539.5 L1897.7,1506.7 L1900.2,1506.7 L1902.7,1565.8 L1905.1,1575.5 L1907.6,1587.5 L1910.1,1619.6 L1912.6,1619.6 L1915.0,1619.6 L1917.5,1619.6 L1920.0,1619.6 L1922.4,1642.2 L1924.9,1520.3 L1927.4,1516.2 L1929.9,1508.1 L1932.3,1507.9 L1934.8,1507.9 L1937.3,1554.9 L1939.8,1538.7 L1942.2,1532.9 L1944.7,1579.4 L1947.2,1601.5 L1949.6,1556.7 L1952.1,1601.5 L1954.6,1541.1 L1957.1,1535.5 L1959.5,1562.6 L1962.0,1481.9 L1964.5,1515.7 L1967.0,1481.9 L1969.4,1530.1 L1971.9,1561.4 L1974.4,1570.0 L1976.8,1630.2 L1979.3,1630.2 L1981.8,1612.9 L1984.3,1536.0 L1986.7,1481.3 L1989.2,1481.3 L1991.7,1483.0 L1994.2,1484.2 L1996.6,1485.8 L1999.1,1472.9 L2001.6,1456.4 L2004.0,1487.0 L2006.5,1542.2 L2009.0,1511.9 L2011.5,1465.5 L2013.9,1465.5 L2016.4,1578.7 L2018.9,1664.1 L2021.4,1664.1 L2023.8,1651.5 L2026.3,1634.8 L2028.8,1648.8 L2031.3,1675.4 L2033.7,1623.7 L2036.2,1432.7 L2038.7,1441.8 L2041.1,1685.5 L2043.6,1729.6 L2046.1,1729.6 L2048.6,1660.6 L2051.0,1538.7 L2053.5,1524.2 L2056.0,1525.4 L2058.5,1535.4 L2060.9,1535.4 L2063.4,1406.8 L2065.9,1406.8 L2068.3,1543.2 L2070.8,1587.4 L2073.3,1580.0 L2075.8,1530.9 L2078.2,1529.5 L2080.7,1522.3 L2083.2,1525.0 L2085.7,1519.6 L2088.1,1556.2 L2090.6,1570.1 L2093.1,1576.1 L2095.5,1577.3 L2098.0,1579.0 L2100.5,1580.6 L2103.0,1589.1 L2105.4,1618.2 L2107.9,1716.7 L2110.4,1722.8 L2112.9,1703.3 L2115.3,1664.8 L2117.8,1630.6 L2120.3,1655.3 L2122.8,1609.9 L2125.2,1609.9 L2127.7,1573.4 L2130.2,1482.1 L2132.6,1506.0 L2135.1,1410.2 L2137.6,1487.9 L2140.1,1455.8 L2142.5,1542.2 L2145.0,1523.3 L2147.5,1509.9 L2150.0,1505.0 L2152.4,1678.7 L2154.9,1700.2 L2157.4,1700.2 L2159.8,1678.7 L2162.3,1666.0 L2164.8,1666.0 L2167.3,1670.7 L2169.7,1673.4 L2172.2,1673.4 L2174.7,1651.2 L2177.2,1537.6 L2179.6,1529.3 L2182.1,1588.8 L2184.6,1608.4 L2187.0,1627.4 L2189.5,1651.1 L2192.0,1651.1 L2194.5,1589.1 L2196.9,1595.7 L2199.4,1564.1 L2201.9,1581.2 L2204.4,1666.0 L2206.8,1608.3 L2209.3,1643.9 L2211.8,1536.8 L2214.2,1536.8 L2216.7,1617.2 L2219.2,1656.4 L2221.7,1743.0 L2224.1,1743.0 L2226.6,1689.3 L2229.1,1626.0 L2231.6,1559.5 L2234.0,1556.6 L2236.5,1639.5 L2239.0,1661.0 L2241.5,1586.4 L2243.9,1482.1 L2246.4,1634.4 L2248.9,1664.7 L2251.3,1547.8 L2253.8,1725.7 L2256.3,1660.1 L2258.8,1797.6 L2261.2,1573.2 L2263.7,1539.3 L2266.2,1539.3 L2268.7,1626.0 L2271.1,1648.6 L2273.6,1648.6 L2276.1,1631.5 L2278.5,1576.5 L2281.0,1576.5 L2283.5,1603.4 L2286.0,1630.6 L2288.4,1623.8 L2290.9,1646.4 L2293.4,1651.1 L2295.9,1506.0 L2298.3,1449.8 L2300.8,1462.5 L2303.3,1526.8 L2305.7,1518.3 L2308.2,1514.4 L2310.7,1556.3 L2313.2,1570.8 L2315.6,1586.5 L2318.1,1586.5 L2320.6,1586.5 L2323.1,1586.5 L2325.5,1552.8 L2328.0,1536.8 L2330.5,1624.7 L2332.9,1712.0 L2335.4,1713.2 L2337.9,1637.9 L2340.4,1645.2 L2342.8,1598.9 L2345.3,1598.9 L2347.8,1619.4 L2350.3,1705.7 L2352.7,1705.7 L2355.2,1649.6 L2357.7,1641.1 L2360.2,1624.5 L2362.6,1629.2 L2365.1,1606.3 L2367.6,1639.5 L2370.0,1674.7 L2372.5,1767.8 L2375.0,1658.6 L2377.5,1595.7 L2379.9,1616.3 L2382.4,1524.3 L2384.9,1524.3 L2387.4,1588.9 L2389.8,1588.9 L2392.3,1554.2" fill="none" stroke="#ff0000" stroke-width="6.0" stroke-linejoin="round" stroke-linecap="butt"/>
<path d="M1405.6,1454.6 L1422.6,1461.4 L1445.1,1473.8 L1467.7,1487.4 L1479.0,1478.3 L1490.3,1477.2 L1501.6,1472.7 L1510.6,1478.3 L1517.4,1488.5 L1528.7,1489.6 L1542.2,1504.3 L1553.5,1498.6 L1562.5,1496.4 L1571.6,1487.4 L1580.6,1498.6 L1590.0,1509.9 L1599.0,1530.2 L1610.3,1548.3 L1620.5,1543.8 L1630.6,1551.7 L1644.2,1530.2 L1655.5,1535.9 L1669.0,1530.2 L1682.6,1516.7 L1696.1,1509.9 L1709.6,1489.6 L1718.7,1479.5 L1730.0,1487.4 L1739.0,1487.4 L1745.8,1496.4 L1759.3,1498.6 L1770.6,1521.2 L1781.9,1546.0 L1791.3,1551.9 L1804.8,1567.7 L1816.1,1574.4 L1825.1,1585.7 L1836.4,1588.0 L1847.7,1594.8 L1859.0,1600.4 L1871.4,1603.8 L1883.8,1589.1 L1897.4,1584.6 L1910.9,1577.8 L1924.5,1575.6 L1938.0,1568.8 L1949.3,1556.4 L1962.8,1550.7 L1981.3,1558.0 L1992.6,1556.9 L1999.3,1564.8 L2010.6,1560.3 L2021.9,1555.8 L2037.7,1545.6 L2049.0,1553.5 L2064.8,1579.5 L2076.1,1576.1 L2086.3,1559.1 L2093.0,1563.7 L2102.1,1555.8 L2112.2,1571.6 L2121.2,1586.2 L2132.5,1586.2 L2143.8,1594.1 L2157.4,1597.5 L2164.1,1588.5 L2177.4,1598.9 L2188.6,1612.5 L2197.3,1613.8 L2208.4,1623.7 L2222.1,1615.0 L2234.5,1618.8 L2245.7,1621.2 L2259.4,1608.8 L2271.8,1607.6 L2281.7,1595.2 L2294.2,1601.4 L2304.1,1612.5 L2315.3,1605.1 L2324.0,1616.3 L2336.4,1611.3 L2348.8,1605.1 L2361.2,1616.3 L2376.1,1627.5 L2393.0,1635.0" fill="none" stroke="#000" stroke-width="5.4" stroke-linejoin="round" stroke-linecap="butt"/>
<rect x="155" y="58.5" width="988.50" height="800.80" fill="none" stroke="#000" stroke-width="5.6"/>
<rect x="1405" y="58.5" width="988.30" height="800.80" fill="none" stroke="#000" stroke-width="5.6"/>
<rect x="155" y="1087.5" width="988.50" height="800.80" fill="none" stroke="#000" stroke-width="5.6"/>
<rect x="1405" y="1087.5" width="988.30" height="800.80" fill="none" stroke="#000" stroke-width="5.6"/>
<line x1="253.85" y1="859.3" x2="253.85" y2="840.80" stroke="#000" stroke-width="5.4"/>
<line x1="352.70" y1="859.3" x2="352.70" y2="825.30" stroke="#000" stroke-width="5.4"/>
<line x1="451.55" y1="859.3" x2="451.55" y2="840.80" stroke="#000" stroke-width="5.4"/>
<line x1="550.40" y1="859.3" x2="550.40" y2="825.30" stroke="#000" stroke-width="5.4"/>
<line x1="649.25" y1="859.3" x2="649.25" y2="840.80" stroke="#000" stroke-width="5.4"/>
<line x1="748.10" y1="859.3" x2="748.10" y2="825.30" stroke="#000" stroke-width="5.4"/>
<line x1="846.95" y1="859.3" x2="846.95" y2="840.80" stroke="#000" stroke-width="5.4"/>
<line x1="945.80" y1="859.3" x2="945.80" y2="825.30" stroke="#000" stroke-width="5.4"/>
<line x1="1044.65" y1="859.3" x2="1044.65" y2="840.80" stroke="#000" stroke-width="5.4"/>
<line x1="1528.54" y1="859.3" x2="1528.54" y2="840.80" stroke="#000" stroke-width="5.4"/>
<line x1="1652.08" y1="859.3" x2="1652.08" y2="825.30" stroke="#000" stroke-width="5.4"/>
<line x1="1775.61" y1="859.3" x2="1775.61" y2="840.80" stroke="#000" stroke-width="5.4"/>
<line x1="1899.15" y1="859.3" x2="1899.15" y2="825.30" stroke="#000" stroke-width="5.4"/>
<line x1="2022.69" y1="859.3" x2="2022.69" y2="840.80" stroke="#000" stroke-width="5.4"/>
<line x1="2146.23" y1="859.3" x2="2146.23" y2="825.30" stroke="#000" stroke-width="5.4"/>
<line x1="2269.76" y1="859.3" x2="2269.76" y2="840.80" stroke="#000" stroke-width="5.4"/>
<line x1="319.75" y1="1888.3" x2="319.75" y2="1869.80" stroke="#000" stroke-width="5.4"/>
<line x1="484.50" y1="1888.3" x2="484.50" y2="1854.30" stroke="#000" stroke-width="5.4"/>
<line x1="649.25" y1="1888.3" x2="649.25" y2="1869.80" stroke="#000" stroke-width="5.4"/>
<line x1="814.00" y1="1888.3" x2="814.00" y2="1854.30" stroke="#000" stroke-width="5.4"/>
<line x1="978.75" y1="1888.3" x2="978.75" y2="1869.80" stroke="#000" stroke-width="5.4"/>
<line x1="1528.54" y1="1888.3" x2="1528.54" y2="1869.80" stroke="#000" stroke-width="5.4"/>
<line x1="1652.08" y1="1888.3" x2="1652.08" y2="1854.30" stroke="#000" stroke-width="5.4"/>
<line x1="1775.61" y1="1888.3" x2="1775.61" y2="1869.80" stroke="#000" stroke-width="5.4"/>
<line x1="1899.15" y1="1888.3" x2="1899.15" y2="1854.30" stroke="#000" stroke-width="5.4"/>
<line x1="2022.69" y1="1888.3" x2="2022.69" y2="1869.80" stroke="#000" stroke-width="5.4"/>
<line x1="2146.23" y1="1888.3" x2="2146.23" y2="1854.30" stroke="#000" stroke-width="5.4"/>
<line x1="2269.76" y1="1888.3" x2="2269.76" y2="1869.80" stroke="#000" stroke-width="5.4"/>
<text transform="translate(111.58,932.30) scale(0.9550,1)" font-family="'Liberation Sans',Arial,sans-serif" font-size="54.5">450</text>
<text transform="translate(309.28,932.30) scale(0.9550,1)" font-family="'Liberation Sans',Arial,sans-serif" font-size="54.5">455</text>
<text transform="translate(506.98,932.30) scale(0.9550,1)" font-family="'Liberation Sans',Arial,sans-serif" font-size="54.5">460</text>
<text transform="translate(704.68,932.30) scale(0.9550,1)" font-family="'Liberation Sans',Arial,sans-serif" font-size="54.5">465</text>
<text transform="translate(902.38,932.30) scale(0.9550,1)" font-family="'Liberation Sans',Arial,sans-serif" font-size="54.5">470</text>
<text transform="translate(1100.08,932.30) scale(0.9550,1)" font-family="'Liberation Sans',Arial,sans-serif" font-size="54.5">475</text>
<text transform="translate(1361.58,932.30) scale(0.9550,1)" font-family="'Liberation Sans',Arial,sans-serif" font-size="54.5">525</text>
<text transform="translate(1608.66,932.30) scale(0.9550,1)" font-family="'Liberation Sans',Arial,sans-serif" font-size="54.5">530</text>
<text transform="translate(1855.73,932.30) scale(0.9550,1)" font-family="'Liberation Sans',Arial,sans-serif" font-size="54.5">535</text>
<text transform="translate(2102.81,932.30) scale(0.9550,1)" font-family="'Liberation Sans',Arial,sans-serif" font-size="54.5">540</text>
<text transform="translate(2349.88,932.30) scale(0.9550,1)" font-family="'Liberation Sans',Arial,sans-serif" font-size="54.5">545</text>
<text transform="translate(126.05,1961.30) scale(0.9550,1)" font-family="'Liberation Sans',Arial,sans-serif" font-size="54.5">95</text>
<text transform="translate(441.08,1961.30) scale(0.9550,1)" font-family="'Liberation Sans',Arial,sans-serif" font-size="54.5">100</text>
<text transform="translate(770.58,1961.30) scale(0.9550,1)" font-family="'Liberation Sans',Arial,sans-serif" font-size="54.5">105</text>
<text transform="translate(1102.01,1961.30) scale(0.9550,1)" font-family="'Liberation Sans',Arial,sans-serif" font-size="54.5">110</text>
<text transform="translate(1361.58,1961.30) scale(0.9550,1)" font-family="'Liberation Sans',Arial,sans-serif" font-size="54.5">360</text>
<text transform="translate(1608.66,1961.30) scale(0.9550,1)" font-family="'Liberation Sans',Arial,sans-serif" font-size="54.5">365</text>
<text transform="translate(1855.73,1961.30) scale(0.9550,1)" font-family="'Liberation Sans',Arial,sans-serif" font-size="54.5">370</text>
<text transform="translate(2102.81,1961.30) scale(0.9550,1)" font-family="'Liberation Sans',Arial,sans-serif" font-size="54.5">375</text>
<text transform="translate(2349.88,1961.30) scale(0.9550,1)" font-family="'Liberation Sans',Arial,sans-serif" font-size="54.5">380</text>
<rect x="590.4" y="89.9" width="514.00" height="197.30" fill="none" stroke="#a8a8a8" stroke-width="2.8"/>
<rect x="1830.4" y="89.9" width="514.00" height="197.30" fill="none" stroke="#a8a8a8" stroke-width="2.8"/>
<rect x="597.7" y="1118.2" width="511.30" height="96.50" fill="none" stroke="#a8a8a8" stroke-width="2.8"/>
<rect x="1822.5" y="1115.6" width="523.90" height="180.40" fill="none" stroke="#a8a8a8" stroke-width="2.8"/>
<line x1="597" y1="137.9" x2="689.5" y2="137.9" stroke="#000" stroke-width="6.0"/>
<line x1="597" y1="239" x2="689.5" y2="239" stroke="#ff0000" stroke-width="6.0"/>
<line x1="1837" y1="137.9" x2="1929.5" y2="137.9" stroke="#000" stroke-width="6.0"/>
<line x1="1837" y1="239" x2="1929.5" y2="239" stroke="#ff0000" stroke-width="6.0"/>
<line x1="606" y1="1165.2" x2="698.6" y2="1165.2" stroke="#ff0000" stroke-width="6.0"/>
<line x1="1836" y1="1166.5" x2="1929.9" y2="1166.5" stroke="#ff0000" stroke-width="6.0"/>
<line x1="1836" y1="1266.8" x2="1929.9" y2="1266.8" stroke="#000" stroke-width="6.0"/>
<text transform="translate(337.90,1035.80) scale(0.9462,1)"><tspan font-family="'Liberation Serif','Times New Roman',serif" font-size="67.5">Binding energy (E) (eV)</tspan></text>
<text transform="translate(1587.90,1035.80) scale(0.9462,1)"><tspan font-family="'Liberation Serif','Times New Roman',serif" font-size="67.5">Binding energy (E) (eV)</tspan></text>
<text transform="translate(337.90,2062.80) scale(0.9462,1)"><tspan font-family="'Liberation Serif','Times New Roman',serif" font-size="67.5">Binding energy (E) (eV)</tspan></text>
<text transform="translate(1587.90,2062.80) scale(0.9462,1)"><tspan font-family="'Liberation Serif','Times New Roman',serif" font-size="67.5">Binding energy (E) (eV)</tspan></text>
<text transform="translate(87.90,735.84) rotate(-90) scale(0.9623,1)"><tspan font-family="'Liberation Serif','Times New Roman',serif" font-size="68">Counts per second</tspan></text>
<text transform="translate(1338.30,734.75) rotate(-90) scale(0.9661,1)"><tspan font-family="'Liberation Serif','Times New Roman',serif" font-size="68">Counts per second</tspan></text>
<text transform="translate(87.90,1760.64) rotate(-90) scale(0.9583,1)"><tspan font-family="'Liberation Serif','Times New Roman',serif" font-size="68">Counts per second</tspan></text>
<text transform="translate(1338.30,1760.64) rotate(-90) scale(0.9623,1)"><tspan font-family="'Liberation Serif','Times New Roman',serif" font-size="68">Counts per second</tspan></text>
<text transform="translate(190.28,158.60) scale(0.9516,1)"><tspan font-family="'Liberation Serif','Times New Roman',serif" font-size="68" font-weight="bold">(a)</tspan><tspan font-family="'Liberation Serif','Times New Roman',serif" font-size="68"> Ti 2p</tspan></text>
<text transform="translate(1440.50,159.60) scale(0.9401,1)"><tspan font-family="'Liberation Serif','Times New Roman',serif" font-size="68" font-weight="bold">(b)</tspan><tspan font-family="'Liberation Serif','Times New Roman',serif" font-size="68"> O 1s</tspan></text>
<text transform="translate(190.49,1186.60) scale(0.9446,1)"><tspan font-family="'Liberation Serif','Times New Roman',serif" font-size="68" font-weight="bold">(c)</tspan><tspan font-family="'Liberation Serif','Times New Roman',serif" font-size="68"> Si 2p</tspan></text>
<text transform="translate(1440.51,1186.60) scale(0.9358,1)"><tspan font-family="'Liberation Serif','Times New Roman',serif" font-size="68" font-weight="bold">(d)</tspan><tspan font-family="'Liberation Serif','Times New Roman',serif" font-size="68"> Ag 3d</tspan></text>
<text transform="translate(705.39,151.70) scale(0.9479,1)"><tspan font-family="'Liberation Serif','Times New Roman',serif" font-size="68">TiO</tspan><tspan font-family="'Liberation Serif','Times New Roman',serif" font-size="42" dy="26">2</tspan></text>
<text transform="translate(706.40,253.30) scale(0.9308,1)"><tspan font-family="'Liberation Serif','Times New Roman',serif" font-size="68">Ag@SiO</tspan><tspan font-family="'Liberation Serif','Times New Roman',serif" font-size="42" dy="26">2</tspan><tspan font-family="'Liberation Serif','Times New Roman',serif" font-size="68" dy="-26">-TiO</tspan><tspan font-family="'Liberation Serif','Times New Roman',serif" font-size="42" dy="26">2</tspan></text>
<text transform="translate(1945.39,151.70) scale(0.9479,1)"><tspan font-family="'Liberation Serif','Times New Roman',serif" font-size="68">TiO</tspan><tspan font-family="'Liberation Serif','Times New Roman',serif" font-size="42" dy="26">2</tspan></text>
<text transform="translate(1946.40,253.30) scale(0.9308,1)"><tspan font-family="'Liberation Serif','Times New Roman',serif" font-size="68">Ag@SiO</tspan><tspan font-family="'Liberation Serif','Times New Roman',serif" font-size="42" dy="26">2</tspan><tspan font-family="'Liberation Serif','Times New Roman',serif" font-size="68" dy="-26">-TiO</tspan><tspan font-family="'Liberation Serif','Times New Roman',serif" font-size="42" dy="26">2</tspan></text>
<text transform="translate(709.00,1179.50) scale(0.9308,1)"><tspan font-family="'Liberation Serif','Times New Roman',serif" font-size="68">Ag@SiO</tspan><tspan font-family="'Liberation Serif','Times New Roman',serif" font-size="42" dy="26">2</tspan><tspan font-family="'Liberation Serif','Times New Roman',serif" font-size="68" dy="-26">-TiO</tspan><tspan font-family="'Liberation Serif','Times New Roman',serif" font-size="42" dy="26">2</tspan></text>
<text transform="translate(1945.50,1179.50) scale(0.9339,1)"><tspan font-family="'Liberation Serif','Times New Roman',serif" font-size="68">Ag@SiO</tspan><tspan font-family="'Liberation Serif','Times New Roman',serif" font-size="42" dy="26">2</tspan><tspan font-family="'Liberation Serif','Times New Roman',serif" font-size="68" dy="-26">-TiO</tspan><tspan font-family="'Liberation Serif','Times New Roman',serif" font-size="42" dy="26">2</tspan></text>
<text transform="translate(1942.24,1279.80) scale(0.9241,1)"><tspan font-family="'Liberation Serif','Times New Roman',serif" font-size="68">smoothed</tspan></text>
<text transform="translate(306.81,294.00) scale(0.9364,1)"><tspan font-family="'Liberation Serif','Times New Roman',serif" font-size="68">2p</tspan><tspan font-family="'Liberation Serif','Times New Roman',serif" font-size="42" dy="26">3/2</tspan></text>
<text transform="translate(628.78,546.60) scale(0.9483,1)"><tspan font-family="'Liberation Serif','Times New Roman',serif" font-size="68">2p</tspan><tspan font-family="'Liberation Serif','Times New Roman',serif" font-size="42" dy="26">1/2</tspan></text>
<text transform="translate(1548.48,246.20) scale(0.9261,1)"><tspan font-family="'Liberation Serif','Times New Roman',serif" font-size="68">1s</tspan></text>
<text transform="translate(565.97,1287.30) scale(0.9537,1)"><tspan font-family="'Liberation Serif','Times New Roman',serif" font-size="68">2p</tspan></text>
</svg>
</body></html>
